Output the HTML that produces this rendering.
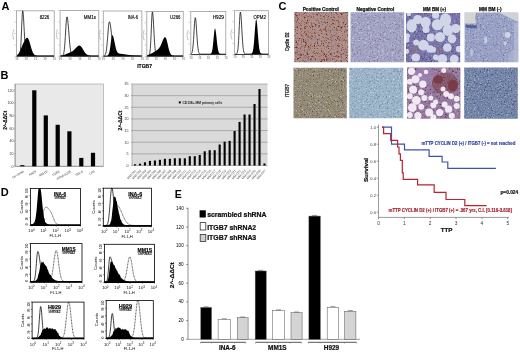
<!DOCTYPE html>
<html><head><meta charset="utf-8"><style>
html,body{margin:0;padding:0;background:#fff;}
svg{display:block;font-family:"Liberation Sans", sans-serif;}
#m{filter:blur(0.35px);}
</style></head><body>
<svg id="m" width="520" height="353" viewBox="0 0 520 353">
<defs><filter id="bl" x="-5%" y="-5%" width="110%" height="110%"><feGaussianBlur stdDeviation="0.45"/></filter><filter id="t1_0" x="0" y="0" width="100%" height="100%" filterUnits="userSpaceOnUse" color-interpolation-filters="sRGB"><feTurbulence type="fractalNoise" baseFrequency="0.3" numOctaves="2" seed="7"/><feColorMatrix type="matrix" values="0 0 0 0 0.557 0 0 0 0 0.518 0 0 0 0 0.596 4 0 0 0 -2.16"/></filter>
<filter id="t1_1" x="0" y="0" width="100%" height="100%" filterUnits="userSpaceOnUse" color-interpolation-filters="sRGB"><feTurbulence type="fractalNoise" baseFrequency="0.7" numOctaves="2" seed="8"/><feColorMatrix type="matrix" values="0 0 0 0 0.518 0 0 0 0 0.282 0 0 0 0 0.227 5 0 0 0 -2.9"/></filter>
<filter id="t1_2" x="0" y="0" width="100%" height="100%" filterUnits="userSpaceOnUse" color-interpolation-filters="sRGB"><feTurbulence type="fractalNoise" baseFrequency="0.9" numOctaves="2" seed="9"/><feColorMatrix type="matrix" values="0 0 0 0 0.353 0 0 0 0 0.141 0 0 0 0 0.078 6 0 0 0 -3.84"/></filter>
<filter id="t2_0" x="0" y="0" width="100%" height="100%" filterUnits="userSpaceOnUse" color-interpolation-filters="sRGB"><feTurbulence type="fractalNoise" baseFrequency="0.6" numOctaves="2" seed="14"/><feColorMatrix type="matrix" values="0 0 0 0 0.478 0 0 0 0 0.478 0 0 0 0 0.651 5 0 0 0 -2.8"/></filter>
<filter id="t2_1" x="0" y="0" width="100%" height="100%" filterUnits="userSpaceOnUse" color-interpolation-filters="sRGB"><feTurbulence type="fractalNoise" baseFrequency="0.5" numOctaves="2" seed="15"/><feColorMatrix type="matrix" values="0 0 0 0 0.753 0 0 0 0 0.753 0 0 0 0 0.847 5 0 0 0 -2.8"/></filter>
<filter id="t3_0" x="0" y="0" width="100%" height="100%" filterUnits="userSpaceOnUse" color-interpolation-filters="sRGB"><feTurbulence type="fractalNoise" baseFrequency="0.6" numOctaves="2" seed="21"/><feColorMatrix type="matrix" values="0 0 0 0 0.290 0 0 0 0 0.275 0 0 0 0 0.494 5 0 0 0 -2.75"/></filter>
<filter id="t3_1" x="0" y="0" width="100%" height="100%" filterUnits="userSpaceOnUse" color-interpolation-filters="sRGB"><feTurbulence type="fractalNoise" baseFrequency="0.5" numOctaves="2" seed="22"/><feColorMatrix type="matrix" values="0 0 0 0 0.604 0 0 0 0 0.596 0 0 0 0 0.769 5 0 0 0 -2.85"/></filter>
<filter id="t4_0" x="0" y="0" width="100%" height="100%" filterUnits="userSpaceOnUse" color-interpolation-filters="sRGB"><feTurbulence type="fractalNoise" baseFrequency="0.5" numOctaves="2" seed="28"/><feColorMatrix type="matrix" values="0 0 0 0 0.737 0 0 0 0 0.753 0 0 0 0 0.847 4 0 0 0 -2.2"/></filter>
<filter id="t4_1" x="0" y="0" width="100%" height="100%" filterUnits="userSpaceOnUse" color-interpolation-filters="sRGB"><feTurbulence type="fractalNoise" baseFrequency="0.7" numOctaves="2" seed="29"/><feColorMatrix type="matrix" values="0 0 0 0 0.439 0 0 0 0 0.471 0 0 0 0 0.659 5 0 0 0 -2.85"/></filter>
<filter id="t5_0" x="0" y="0" width="100%" height="100%" filterUnits="userSpaceOnUse" color-interpolation-filters="sRGB"><feTurbulence type="fractalNoise" baseFrequency="0.45" numOctaves="2" seed="35"/><feColorMatrix type="matrix" values="0 0 0 0 0.541 0 0 0 0 0.588 0 0 0 0 0.667 4 0 0 0 -2.12"/></filter>
<filter id="t5_1" x="0" y="0" width="100%" height="100%" filterUnits="userSpaceOnUse" color-interpolation-filters="sRGB"><feTurbulence type="fractalNoise" baseFrequency="0.8" numOctaves="2" seed="36"/><feColorMatrix type="matrix" values="0 0 0 0 0.369 0 0 0 0 0.306 0 0 0 0 0.227 5 0 0 0 -3"/></filter>
<filter id="t5_2" x="0" y="0" width="100%" height="100%" filterUnits="userSpaceOnUse" color-interpolation-filters="sRGB"><feTurbulence type="fractalNoise" baseFrequency="0.7" numOctaves="2" seed="37"/><feColorMatrix type="matrix" values="0 0 0 0 0.769 0 0 0 0 0.737 0 0 0 0 0.659 5 0 0 0 -3"/></filter>
<filter id="t6_0" x="0" y="0" width="100%" height="100%" filterUnits="userSpaceOnUse" color-interpolation-filters="sRGB"><feTurbulence type="fractalNoise" baseFrequency="0.6" numOctaves="2" seed="42"/><feColorMatrix type="matrix" values="0 0 0 0 0.455 0 0 0 0 0.565 0 0 0 0 0.690 5 0 0 0 -2.75"/></filter>
<filter id="t6_1" x="0" y="0" width="100%" height="100%" filterUnits="userSpaceOnUse" color-interpolation-filters="sRGB"><feTurbulence type="fractalNoise" baseFrequency="0.7" numOctaves="2" seed="43"/><feColorMatrix type="matrix" values="0 0 0 0 0.769 0 0 0 0 0.824 0 0 0 0 0.871 5 0 0 0 -2.9"/></filter>
<filter id="t7_0" x="0" y="0" width="100%" height="100%" filterUnits="userSpaceOnUse" color-interpolation-filters="sRGB"><feTurbulence type="fractalNoise" baseFrequency="0.6" numOctaves="2" seed="49"/><feColorMatrix type="matrix" values="0 0 0 0 0.353 0 0 0 0 0.212 0 0 0 0 0.322 5 0 0 0 -2.85"/></filter>
<filter id="t7_1" x="0" y="0" width="100%" height="100%" filterUnits="userSpaceOnUse" color-interpolation-filters="sRGB"><feTurbulence type="fractalNoise" baseFrequency="0.5" numOctaves="2" seed="50"/><feColorMatrix type="matrix" values="0 0 0 0 0.690 0 0 0 0 0.604 0 0 0 0 0.753 4 0 0 0 -2.24"/></filter>
<filter id="t8_0" x="0" y="0" width="100%" height="100%" filterUnits="userSpaceOnUse" color-interpolation-filters="sRGB"><feTurbulence type="fractalNoise" baseFrequency="0.7" numOctaves="2" seed="56"/><feColorMatrix type="matrix" values="0 0 0 0 0.298 0 0 0 0 0.353 0 0 0 0 0.518 5 0 0 0 -2.7"/></filter>
<filter id="t8_1" x="0" y="0" width="100%" height="100%" filterUnits="userSpaceOnUse" color-interpolation-filters="sRGB"><feTurbulence type="fractalNoise" baseFrequency="0.7" numOctaves="2" seed="57"/><feColorMatrix type="matrix" values="0 0 0 0 0.651 0 0 0 0 0.698 0 0 0 0 0.800 5 0 0 0 -2.9"/></filter></defs>
<rect width="520" height="353" fill="#fff"/>
<text x="1.5" y="10.2" font-size="11" font-weight="bold" fill="#000" text-anchor="start" >A</text>
<rect x="16.5" y="10.8" width="37.7" height="45.5" fill="none" stroke="#9c9c9c" stroke-width="0.8"/>
<path d="M17 56.3 L17 55.1 L17.25 54.95 L17.5 54.77 L17.75 54.56 L18 54.32 L18.25 54.05 L18.5 53.73 L18.75 53.38 L19 52.99 L19.25 52.56 L19.5 52.09 L19.75 51.58 L20 51.05 L20.25 50.48 L20.5 49.89 L20.75 49.28 L21 48.66 L21.25 48.03 L21.5 47.4 L21.75 46.77 L22 46.14 L22.25 45.53 L22.5 44.93 L22.75 44.34 L23 43.77 L23.25 43.22 L23.5 42.68 L23.75 42.16 L24 41.66 L24.25 41.18 L24.5 40.71 L24.75 40.26 L25 39.84 L25.25 39.44 L25.5 39.07 L25.75 38.74 L26 38.45 L26.25 38.2 L26.5 38.01 L26.75 37.87 L27 37.81 L27.25 37.81 L27.5 37.9 L27.75 38.06 L28 38.33 L28.25 38.7 L28.5 39.16 L28.75 39.72 L29 40.37 L29.25 41.08 L29.5 41.86 L29.75 42.7 L30 43.56 L30.25 44.45 L30.5 45.35 L30.75 46.25 L31 47.13 L31.25 47.99 L31.5 48.81 L31.75 49.59 L32 50.32 L32.25 51 L32.5 51.62 L32.75 52.19 L33 52.7 L33.25 53.15 L33.5 53.55 L33.75 53.91 L34 54.21 L34.25 54.47 L34.5 54.7 L34.75 54.89 L35 55.04 L35.25 55.18 L35.5 55.28 L35.75 55.37 L36 55.44 L36.25 55.5 L36.5 55.55 L36.75 55.58 L37 55.61 L37.25 55.63 L37.5 55.65 L37.75 55.66 L38 55.67 L38.25 55.68 L38.5 55.69 L38.75 55.69 L39 55.69 L39.25 55.69 L39.5 55.7 L39.75 55.7 L40 55.7 L40.25 55.7 L40.5 55.7 L40.75 55.7 L41 55.7 L41.25 55.7 L41.5 55.7 L41.75 55.7 L42 55.7 L42.25 55.7 L42.5 55.7 L42.75 55.7 L43 55.7 L43.25 55.7 L43.5 55.7 L43.75 55.7 L44 55.7 L44.25 55.7 L44.5 55.7 L44.75 55.7 L45 55.7 L45.25 55.7 L45.5 55.7 L45.75 55.7 L46 55.7 L46.25 55.7 L46.5 55.7 L46.75 55.7 L47 55.7 L47.25 55.7 L47.5 55.7 L47.75 55.7 L48 55.7 L48.25 55.7 L48.5 55.7 L48.75 55.7 L49 55.7 L49.25 55.7 L49.5 55.7 L49.75 55.7 L50 55.7 L50.25 55.7 L50.5 55.7 L50.75 55.7 L51 55.7 L51.25 55.7 L51.5 55.7 L51.75 55.7 L52 55.7 L52.25 55.7 L52.5 55.7 L52.75 55.7 L53 55.7 L53.25 55.7 L53.5 55.7 L53.75 55.7 L54 55.7 L54.2 56.3 Z" fill="#000"/>
<path d="M17 55.8 L17.25 55.8 L17.5 55.8 L17.75 55.8 L18 55.8 L18.25 55.79 L18.5 55.77 L18.75 55.73 L19 55.64 L19.25 55.47 L19.5 55.15 L19.75 54.57 L20 53.59 L20.25 52.03 L20.5 49.71 L20.75 46.45 L21 42.17 L21.25 36.92 L21.5 30.98 L21.75 24.81 L22 19.05 L22.25 14.41 L22.5 11.54 L22.75 10.83 L23 11.82 L23.25 14.14 L23.5 17.58 L23.75 21.83 L24 26.56 L24.25 31.42 L24.5 36.11 L24.75 40.4 L25 44.13 L25.25 47.23 L25.5 49.71 L25.75 51.61 L26 53 L26.25 53.99 L26.5 54.67 L26.75 55.11 L27 55.4 L27.25 55.57 L27.5 55.67 L27.75 55.73 L28 55.77 L28.25 55.78 L28.5 55.79 L28.75 55.8 L29 55.8 L29.25 55.8 L29.5 55.8 L29.75 55.8 L30 55.8 L30.25 55.8 L30.5 55.8 L30.75 55.8 L31 55.8 L31.25 55.8 L31.5 55.8 L31.75 55.8 L32 55.8 L32.25 55.8 L32.5 55.8 L32.75 55.8 L33 55.8 L33.25 55.8 L33.5 55.8 L33.75 55.8 L34 55.8 L34.25 55.8 L34.5 55.8 L34.75 55.8 L35 55.8 L35.25 55.8 L35.5 55.8 L35.75 55.8 L36 55.8 L36.25 55.8 L36.5 55.8 L36.75 55.8 L37 55.8 L37.25 55.8 L37.5 55.8 L37.75 55.8 L38 55.8 L38.25 55.8 L38.5 55.8 L38.75 55.8 L39 55.8 L39.25 55.8 L39.5 55.8 L39.75 55.8 L40 55.8 L40.25 55.8 L40.5 55.8 L40.75 55.8 L41 55.8 L41.25 55.8 L41.5 55.8 L41.75 55.8 L42 55.8 L42.25 55.8 L42.5 55.8 L42.75 55.8 L43 55.8 L43.25 55.8 L43.5 55.8 L43.75 55.8 L44 55.8 L44.25 55.8 L44.5 55.8 L44.75 55.8 L45 55.8 L45.25 55.8 L45.5 55.8 L45.75 55.8 L46 55.8 L46.25 55.8 L46.5 55.8 L46.75 55.8 L47 55.8 L47.25 55.8 L47.5 55.8 L47.75 55.8 L48 55.8 L48.25 55.8 L48.5 55.8 L48.75 55.8 L49 55.8 L49.25 55.8 L49.5 55.8 L49.75 55.8 L50 55.8 L50.25 55.8 L50.5 55.8 L50.75 55.8 L51 55.8 L51.25 55.8 L51.5 55.8 L51.75 55.8 L52 55.8 L52.25 55.8 L52.5 55.8 L52.75 55.8 L53 55.8 L53.25 55.8 L53.5 55.8 L53.75 55.8 L54 55.8" fill="none" stroke="#111" stroke-width="0.8"/>
<line x1="16.5" y1="56.3" x2="54.2" y2="56.3" stroke="#333" stroke-width="0.8"/>
<text x="39.7" y="19.3" font-size="4.6" font-weight="normal" fill="#111" text-anchor="start" textLength="9.5" lengthAdjust="spacingAndGlyphs" stroke="#111" stroke-width="0.15">8226</text>
<line x1="16.5" y1="56.3" x2="16.5" y2="57.5" stroke="#888" stroke-width="0.5"/>
<text x="16.8" y="60.2" font-size="2.8" font-weight="bold" fill="#888" text-anchor="middle" >10</text>
<line x1="25.93" y1="56.3" x2="25.93" y2="57.5" stroke="#888" stroke-width="0.5"/>
<text x="26.23" y="60.2" font-size="2.8" font-weight="bold" fill="#888" text-anchor="middle" >10</text>
<line x1="35.35" y1="56.3" x2="35.35" y2="57.5" stroke="#888" stroke-width="0.5"/>
<text x="35.65" y="60.2" font-size="2.8" font-weight="bold" fill="#888" text-anchor="middle" >10</text>
<line x1="44.78" y1="56.3" x2="44.78" y2="57.5" stroke="#888" stroke-width="0.5"/>
<text x="45.08" y="60.2" font-size="2.8" font-weight="bold" fill="#888" text-anchor="middle" >10</text>
<line x1="54.2" y1="56.3" x2="54.2" y2="57.5" stroke="#888" stroke-width="0.5"/>
<text x="54.5" y="60.2" font-size="2.8" font-weight="bold" fill="#888" text-anchor="middle" >10</text>
<line x1="14.3" y1="56.3" x2="15.7" y2="56.3" stroke="#aaa" stroke-width="0.6"/>
<line x1="14.3" y1="44.92" x2="15.7" y2="44.92" stroke="#aaa" stroke-width="0.6"/>
<line x1="14.3" y1="33.55" x2="15.7" y2="33.55" stroke="#aaa" stroke-width="0.6"/>
<line x1="14.3" y1="22.17" x2="15.7" y2="22.17" stroke="#aaa" stroke-width="0.6"/>
<line x1="14.3" y1="10.8" x2="15.7" y2="10.8" stroke="#aaa" stroke-width="0.6"/>
<path d="M14.3 30 h-0.8 q-1.6 4.5 0 9 h0.8" fill="none" stroke="#999" stroke-width="0.55"/>
<rect x="60.1" y="10.6" width="38.7" height="45.7" fill="none" stroke="#9c9c9c" stroke-width="0.8"/>
<path d="M60.6 56.3 L60.6 55.54 L60.85 55.52 L61.1 55.49 L61.35 55.46 L61.6 55.42 L61.85 55.38 L62.1 55.34 L62.35 55.3 L62.6 55.25 L62.85 55.19 L63.1 55.13 L63.35 55.07 L63.6 55 L63.85 54.92 L64.1 54.85 L64.35 54.76 L64.6 54.68 L64.85 54.59 L65.1 54.49 L65.35 54.39 L65.6 54.29 L65.85 54.19 L66.1 54.08 L66.35 53.98 L66.6 53.87 L66.85 53.76 L67.1 53.65 L67.35 53.54 L67.6 53.43 L67.85 53.32 L68.1 53.22 L68.35 53.11 L68.6 53 L68.85 52.9 L69.1 52.8 L69.35 52.69 L69.6 52.59 L69.85 52.49 L70.1 52.38 L70.35 52.28 L70.6 52.17 L70.85 52.06 L71.1 51.94 L71.35 51.82 L71.6 51.69 L71.85 51.55 L72.1 51.4 L72.35 51.25 L72.6 51.08 L72.85 50.91 L73.1 50.72 L73.35 50.52 L73.6 50.3 L73.85 50.08 L74.1 49.85 L74.35 49.6 L74.6 49.35 L74.85 49.08 L75.1 48.81 L75.35 48.54 L75.6 48.26 L75.85 47.99 L76.1 47.71 L76.35 47.44 L76.6 47.18 L76.85 46.93 L77.1 46.69 L77.35 46.47 L77.6 46.26 L77.85 46.08 L78.1 45.92 L78.35 45.78 L78.6 45.68 L78.85 45.6 L79.1 45.56 L79.35 45.54 L79.6 45.56 L79.85 45.63 L80.1 45.73 L80.35 45.89 L80.6 46.08 L80.85 46.32 L81.1 46.59 L81.35 46.89 L81.6 47.23 L81.85 47.59 L82.1 47.97 L82.35 48.37 L82.6 48.78 L82.85 49.2 L83.1 49.62 L83.35 50.05 L83.6 50.46 L83.85 50.87 L84.1 51.27 L84.35 51.66 L84.6 52.03 L84.85 52.38 L85.1 52.72 L85.35 53.03 L85.6 53.32 L85.85 53.59 L86.1 53.84 L86.35 54.06 L86.6 54.27 L86.85 54.46 L87.1 54.62 L87.35 54.77 L87.6 54.9 L87.85 55.02 L88.1 55.12 L88.35 55.21 L88.6 55.29 L88.85 55.36 L89.1 55.41 L89.35 55.46 L89.6 55.5 L89.85 55.54 L90.1 55.57 L90.35 55.59 L90.6 55.61 L90.85 55.63 L91.1 55.64 L91.35 55.66 L91.6 55.66 L91.85 55.67 L92.1 55.68 L92.35 55.68 L92.6 55.69 L92.85 55.69 L93.1 55.69 L93.35 55.69 L93.6 55.7 L93.85 55.7 L94.1 55.7 L94.35 55.7 L94.6 55.7 L94.85 55.7 L95.1 55.7 L95.35 55.7 L95.6 55.7 L95.85 55.7 L96.1 55.7 L96.35 55.7 L96.6 55.7 L96.85 55.7 L97.1 55.7 L97.35 55.7 L97.6 55.7 L97.85 55.7 L98.1 55.7 L98.35 55.7 L98.6 55.7 L98.8 56.3 Z" fill="#000"/>
<path d="M60.6 55.8 L60.85 55.8 L61.1 55.79 L61.35 55.79 L61.6 55.78 L61.85 55.76 L62.1 55.71 L62.35 55.64 L62.6 55.52 L62.85 55.32 L63.1 54.99 L63.35 54.5 L63.6 53.76 L63.85 52.7 L64.1 51.24 L64.35 49.3 L64.6 46.83 L64.85 43.81 L65.1 40.27 L65.35 36.33 L65.6 32.15 L65.85 27.97 L66.1 24.08 L66.35 20.78 L66.6 18.36 L66.85 17.02 L67.1 16.86 L67.35 17.53 L67.6 18.91 L67.85 20.91 L68.1 23.44 L68.35 26.36 L68.6 29.53 L68.85 32.8 L69.1 36.05 L69.35 39.17 L69.6 42.06 L69.85 44.67 L70.1 46.95 L70.35 48.9 L70.6 50.52 L70.85 51.84 L71.1 52.89 L71.35 53.7 L71.6 54.31 L71.85 54.77 L72.1 55.1 L72.35 55.33 L72.6 55.49 L72.85 55.6 L73.1 55.67 L73.35 55.72 L73.6 55.75 L73.85 55.77 L74.1 55.78 L74.35 55.79 L74.6 55.79 L74.85 55.8 L75.1 55.8 L75.35 55.8 L75.6 55.8 L75.85 55.8 L76.1 55.8 L76.35 55.8 L76.6 55.8 L76.85 55.8 L77.1 55.8 L77.35 55.8 L77.6 55.8 L77.85 55.8 L78.1 55.8 L78.35 55.8 L78.6 55.8 L78.85 55.8 L79.1 55.8 L79.35 55.8 L79.6 55.8 L79.85 55.8 L80.1 55.8 L80.35 55.8 L80.6 55.8 L80.85 55.8 L81.1 55.8 L81.35 55.8 L81.6 55.8 L81.85 55.8 L82.1 55.8 L82.35 55.8 L82.6 55.8 L82.85 55.8 L83.1 55.8 L83.35 55.8 L83.6 55.8 L83.85 55.8 L84.1 55.8 L84.35 55.8 L84.6 55.8 L84.85 55.8 L85.1 55.8 L85.35 55.8 L85.6 55.8 L85.85 55.8 L86.1 55.8 L86.35 55.8 L86.6 55.8 L86.85 55.8 L87.1 55.8 L87.35 55.8 L87.6 55.8 L87.85 55.8 L88.1 55.8 L88.35 55.8 L88.6 55.8 L88.85 55.8 L89.1 55.8 L89.35 55.8 L89.6 55.8 L89.85 55.8 L90.1 55.8 L90.35 55.8 L90.6 55.8 L90.85 55.8 L91.1 55.8 L91.35 55.8 L91.6 55.8 L91.85 55.8 L92.1 55.8 L92.35 55.8 L92.6 55.8 L92.85 55.8 L93.1 55.8 L93.35 55.8 L93.6 55.8 L93.85 55.8 L94.1 55.8 L94.35 55.8 L94.6 55.8 L94.85 55.8 L95.1 55.8 L95.35 55.8 L95.6 55.8 L95.85 55.8 L96.1 55.8 L96.35 55.8 L96.6 55.8 L96.85 55.8 L97.1 55.8 L97.35 55.8 L97.6 55.8 L97.85 55.8 L98.1 55.8 L98.35 55.8 L98.6 55.8" fill="none" stroke="#111" stroke-width="0.8"/>
<line x1="60.1" y1="56.3" x2="98.8" y2="56.3" stroke="#333" stroke-width="0.8"/>
<text x="83.8" y="19.3" font-size="4.6" font-weight="normal" fill="#111" text-anchor="start" textLength="12.2" lengthAdjust="spacingAndGlyphs" stroke="#111" stroke-width="0.15">MM1s</text>
<line x1="60.1" y1="56.3" x2="60.1" y2="57.5" stroke="#888" stroke-width="0.5"/>
<text x="60.4" y="60.2" font-size="2.8" font-weight="bold" fill="#888" text-anchor="middle" >10</text>
<line x1="69.78" y1="56.3" x2="69.78" y2="57.5" stroke="#888" stroke-width="0.5"/>
<text x="70.08" y="60.2" font-size="2.8" font-weight="bold" fill="#888" text-anchor="middle" >10</text>
<line x1="79.45" y1="56.3" x2="79.45" y2="57.5" stroke="#888" stroke-width="0.5"/>
<text x="79.75" y="60.2" font-size="2.8" font-weight="bold" fill="#888" text-anchor="middle" >10</text>
<line x1="89.12" y1="56.3" x2="89.12" y2="57.5" stroke="#888" stroke-width="0.5"/>
<text x="89.42" y="60.2" font-size="2.8" font-weight="bold" fill="#888" text-anchor="middle" >10</text>
<line x1="98.8" y1="56.3" x2="98.8" y2="57.5" stroke="#888" stroke-width="0.5"/>
<text x="99.1" y="60.2" font-size="2.8" font-weight="bold" fill="#888" text-anchor="middle" >10</text>
<line x1="57.9" y1="56.3" x2="59.3" y2="56.3" stroke="#aaa" stroke-width="0.6"/>
<line x1="57.9" y1="44.88" x2="59.3" y2="44.88" stroke="#aaa" stroke-width="0.6"/>
<line x1="57.9" y1="33.45" x2="59.3" y2="33.45" stroke="#aaa" stroke-width="0.6"/>
<line x1="57.9" y1="22.02" x2="59.3" y2="22.02" stroke="#aaa" stroke-width="0.6"/>
<line x1="57.9" y1="10.6" x2="59.3" y2="10.6" stroke="#aaa" stroke-width="0.6"/>
<path d="M57.9 29.8 h-0.8 q-1.6 4.5 0 9 h0.8" fill="none" stroke="#999" stroke-width="0.55"/>
<rect x="103.3" y="11" width="38.6" height="45.3" fill="none" stroke="#9c9c9c" stroke-width="0.8"/>
<path d="M103.8 56.3 L103.8 55.7 L104.05 55.7 L104.3 55.7 L104.55 55.7 L104.8 55.7 L105.05 55.7 L105.3 55.69 L105.55 55.69 L105.8 55.69 L106.05 55.68 L106.3 55.67 L106.55 55.65 L106.8 55.63 L107.05 55.58 L107.3 55.52 L107.55 55.42 L107.8 55.27 L108.05 55.06 L108.3 54.76 L108.55 54.35 L108.8 53.79 L109.05 53.07 L109.3 52.16 L109.55 51.03 L109.8 49.69 L110.05 48.14 L110.3 46.41 L110.55 44.56 L110.8 42.64 L111.05 40.76 L111.3 39.01 L111.55 37.5 L111.8 36.3 L112.05 35.51 L112.3 35.17 L112.55 35.19 L112.8 35.45 L113.05 35.94 L113.3 36.65 L113.55 37.53 L113.8 38.56 L114.05 39.71 L114.3 40.93 L114.55 42.18 L114.8 43.44 L115.05 44.68 L115.3 45.86 L115.55 46.98 L115.8 48 L116.05 48.94 L116.3 49.77 L116.55 50.49 L116.8 51.1 L117.05 51.62 L117.3 52.05 L117.55 52.4 L117.8 52.69 L118.05 52.92 L118.3 53.1 L118.55 53.24 L118.8 53.36 L119.05 53.45 L119.3 53.52 L119.55 53.58 L119.8 53.63 L120.05 53.67 L120.3 53.71 L120.55 53.75 L120.8 53.78 L121.05 53.81 L121.3 53.85 L121.55 53.88 L121.8 53.91 L122.05 53.94 L122.3 53.98 L122.55 54.01 L122.8 54.05 L123.05 54.08 L123.3 54.12 L123.55 54.15 L123.8 54.19 L124.05 54.23 L124.3 54.26 L124.55 54.3 L124.8 54.34 L125.05 54.37 L125.3 54.41 L125.55 54.45 L125.8 54.48 L126.05 54.52 L126.3 54.56 L126.55 54.59 L126.8 54.63 L127.05 54.66 L127.3 54.7 L127.55 54.73 L127.8 54.77 L128.05 54.8 L128.3 54.84 L128.55 54.87 L128.8 54.9 L129.05 54.93 L129.3 54.96 L129.55 54.99 L129.8 55.02 L130.05 55.05 L130.3 55.08 L130.55 55.1 L130.8 55.13 L131.05 55.16 L131.3 55.18 L131.55 55.21 L131.8 55.23 L132.05 55.25 L132.3 55.27 L132.55 55.29 L132.8 55.31 L133.05 55.33 L133.3 55.35 L133.55 55.37 L133.8 55.39 L134.05 55.41 L134.3 55.42 L134.55 55.44 L134.8 55.45 L135.05 55.47 L135.3 55.48 L135.55 55.49 L135.8 55.5 L136.05 55.52 L136.3 55.53 L136.55 55.54 L136.8 55.55 L137.05 55.56 L137.3 55.57 L137.55 55.57 L137.8 55.58 L138.05 55.59 L138.3 55.6 L138.55 55.6 L138.8 55.61 L139.05 55.62 L139.3 55.62 L139.55 55.63 L139.8 55.63 L140.05 55.64 L140.3 55.64 L140.55 55.65 L140.8 55.65 L141.05 55.65 L141.3 55.66 L141.55 55.66 L141.8 55.66 L141.9 56.3 Z" fill="#000"/>
<path d="M103.8 55.73 L104.05 55.67 L104.3 55.59 L104.55 55.46 L104.8 55.25 L105.05 54.96 L105.3 54.52 L105.55 53.92 L105.8 53.09 L106.05 52 L106.3 50.6 L106.55 48.84 L106.8 46.72 L107.05 44.24 L107.3 41.43 L107.55 38.38 L107.8 35.18 L108.05 31.98 L108.3 28.96 L108.55 26.27 L108.8 24.11 L109.05 22.6 L109.3 21.87 L109.55 21.88 L109.8 22.36 L110.05 23.25 L110.3 24.53 L110.55 26.14 L110.8 28.03 L111.05 30.14 L111.3 32.38 L111.55 34.71 L111.8 37.05 L112.05 39.34 L112.3 41.54 L112.55 43.6 L112.8 45.5 L113.05 47.21 L113.3 48.74 L113.55 50.06 L113.8 51.2 L114.05 52.16 L114.3 52.95 L114.55 53.6 L114.8 54.13 L115.05 54.54 L115.3 54.87 L115.55 55.12 L115.8 55.31 L116.05 55.45 L116.3 55.55 L116.55 55.63 L116.8 55.68 L117.05 55.72 L117.3 55.75 L117.55 55.76 L117.8 55.78 L118.05 55.79 L118.3 55.79 L118.55 55.79 L118.8 55.8 L119.05 55.8 L119.3 55.8 L119.55 55.8 L119.8 55.8 L120.05 55.8 L120.3 55.8 L120.55 55.8 L120.8 55.8 L121.05 55.8 L121.3 55.8 L121.55 55.8 L121.8 55.8 L122.05 55.8 L122.3 55.8 L122.55 55.8 L122.8 55.8 L123.05 55.8 L123.3 55.8 L123.55 55.8 L123.8 55.8 L124.05 55.8 L124.3 55.8 L124.55 55.8 L124.8 55.8 L125.05 55.8 L125.3 55.8 L125.55 55.8 L125.8 55.8 L126.05 55.8 L126.3 55.8 L126.55 55.8 L126.8 55.8 L127.05 55.8 L127.3 55.8 L127.55 55.8 L127.8 55.8 L128.05 55.8 L128.3 55.8 L128.55 55.8 L128.8 55.8 L129.05 55.8 L129.3 55.8 L129.55 55.8 L129.8 55.8 L130.05 55.8 L130.3 55.8 L130.55 55.8 L130.8 55.8 L131.05 55.8 L131.3 55.8 L131.55 55.8 L131.8 55.8 L132.05 55.8 L132.3 55.8 L132.55 55.8 L132.8 55.8 L133.05 55.8 L133.3 55.8 L133.55 55.8 L133.8 55.8 L134.05 55.8 L134.3 55.8 L134.55 55.8 L134.8 55.8 L135.05 55.8 L135.3 55.8 L135.55 55.8 L135.8 55.8 L136.05 55.8 L136.3 55.8 L136.55 55.8 L136.8 55.8 L137.05 55.8 L137.3 55.8 L137.55 55.8 L137.8 55.8 L138.05 55.8 L138.3 55.8 L138.55 55.8 L138.8 55.8 L139.05 55.8 L139.3 55.8 L139.55 55.8 L139.8 55.8 L140.05 55.8 L140.3 55.8 L140.55 55.8 L140.8 55.8 L141.05 55.8 L141.3 55.8 L141.55 55.8 L141.8 55.8" fill="none" stroke="#111" stroke-width="0.8"/>
<line x1="103.3" y1="56.3" x2="141.9" y2="56.3" stroke="#333" stroke-width="0.8"/>
<text x="127.7" y="19.3" font-size="4.6" font-weight="normal" fill="#111" text-anchor="start" textLength="10.4" lengthAdjust="spacingAndGlyphs" stroke="#111" stroke-width="0.15">INA-6</text>
<line x1="103.3" y1="56.3" x2="103.3" y2="57.5" stroke="#888" stroke-width="0.5"/>
<text x="103.6" y="60.2" font-size="2.8" font-weight="bold" fill="#888" text-anchor="middle" >10</text>
<line x1="112.95" y1="56.3" x2="112.95" y2="57.5" stroke="#888" stroke-width="0.5"/>
<text x="113.25" y="60.2" font-size="2.8" font-weight="bold" fill="#888" text-anchor="middle" >10</text>
<line x1="122.6" y1="56.3" x2="122.6" y2="57.5" stroke="#888" stroke-width="0.5"/>
<text x="122.9" y="60.2" font-size="2.8" font-weight="bold" fill="#888" text-anchor="middle" >10</text>
<line x1="132.25" y1="56.3" x2="132.25" y2="57.5" stroke="#888" stroke-width="0.5"/>
<text x="132.55" y="60.2" font-size="2.8" font-weight="bold" fill="#888" text-anchor="middle" >10</text>
<line x1="141.9" y1="56.3" x2="141.9" y2="57.5" stroke="#888" stroke-width="0.5"/>
<text x="142.2" y="60.2" font-size="2.8" font-weight="bold" fill="#888" text-anchor="middle" >10</text>
<line x1="101.1" y1="56.3" x2="102.5" y2="56.3" stroke="#aaa" stroke-width="0.6"/>
<line x1="101.1" y1="44.97" x2="102.5" y2="44.97" stroke="#aaa" stroke-width="0.6"/>
<line x1="101.1" y1="33.65" x2="102.5" y2="33.65" stroke="#aaa" stroke-width="0.6"/>
<line x1="101.1" y1="22.33" x2="102.5" y2="22.33" stroke="#aaa" stroke-width="0.6"/>
<line x1="101.1" y1="11" x2="102.5" y2="11" stroke="#aaa" stroke-width="0.6"/>
<path d="M101.1 30.2 h-0.8 q-1.6 4.5 0 9 h0.8" fill="none" stroke="#999" stroke-width="0.55"/>
<rect x="146.8" y="11.5" width="36.4" height="44.8" fill="none" stroke="#9c9c9c" stroke-width="0.8"/>
<path d="M147.3 56.3 L147.3 55.06 L147.55 55 L147.8 54.94 L148.05 54.87 L148.3 54.8 L148.55 54.73 L148.8 54.65 L149.05 54.57 L149.3 54.48 L149.55 54.38 L149.8 54.29 L150.05 54.18 L150.3 54.08 L150.55 53.96 L150.8 53.85 L151.05 53.73 L151.3 53.6 L151.55 53.47 L151.8 53.34 L152.05 53.21 L152.3 53.07 L152.55 52.92 L152.8 52.78 L153.05 52.63 L153.3 52.48 L153.55 52.33 L153.8 52.17 L154.05 52.02 L154.3 51.86 L154.55 51.71 L154.8 51.55 L155.05 51.39 L155.3 51.24 L155.55 51.08 L155.8 50.92 L156.05 50.76 L156.3 50.59 L156.55 50.43 L156.8 50.26 L157.05 50.08 L157.3 49.9 L157.55 49.7 L157.8 49.5 L158.05 49.28 L158.3 49.04 L158.55 48.78 L158.8 48.5 L159.05 48.19 L159.3 47.85 L159.55 47.48 L159.8 47.07 L160.05 46.63 L160.3 46.15 L160.55 45.66 L160.8 45.13 L161.05 44.58 L161.3 44 L161.55 43.41 L161.8 42.8 L162.05 42.18 L162.3 41.56 L162.55 40.94 L162.8 40.33 L163.05 39.75 L163.3 39.2 L163.55 38.7 L163.8 38.25 L164.05 37.87 L164.3 37.56 L164.55 37.34 L164.8 37.21 L165.05 37.17 L165.3 37.24 L165.55 37.41 L165.8 37.73 L166.05 38.2 L166.3 38.83 L166.55 39.59 L166.8 40.47 L167.05 41.44 L167.3 42.49 L167.55 43.58 L167.8 44.7 L168.05 45.81 L168.3 46.9 L168.55 47.95 L168.8 48.95 L169.05 49.88 L169.3 50.73 L169.55 51.5 L169.8 52.19 L170.05 52.79 L170.3 53.32 L170.55 53.77 L170.8 54.15 L171.05 54.46 L171.3 54.73 L171.55 54.94 L171.8 55.11 L172.05 55.25 L172.3 55.36 L172.55 55.44 L172.8 55.51 L173.05 55.56 L173.3 55.59 L173.55 55.62 L173.8 55.64 L174.05 55.66 L174.3 55.67 L174.55 55.68 L174.8 55.68 L175.05 55.69 L175.3 55.69 L175.55 55.69 L175.8 55.7 L176.05 55.7 L176.3 55.7 L176.55 55.7 L176.8 55.7 L177.05 55.7 L177.3 55.7 L177.55 55.7 L177.8 55.7 L178.05 55.7 L178.3 55.7 L178.55 55.7 L178.8 55.7 L179.05 55.7 L179.3 55.7 L179.55 55.7 L179.8 55.7 L180.05 55.7 L180.3 55.7 L180.55 55.7 L180.8 55.7 L181.05 55.7 L181.3 55.7 L181.55 55.7 L181.8 55.7 L182.05 55.7 L182.3 55.7 L182.55 55.7 L182.8 55.7 L183.05 55.7 L183.2 56.3 Z" fill="#000"/>
<path d="M147.3 55.8 L147.55 55.8 L147.8 55.79 L148.05 55.78 L148.3 55.76 L148.55 55.7 L148.8 55.59 L149.05 55.37 L149.3 54.97 L149.55 54.27 L149.8 53.11 L150.05 51.31 L150.3 48.69 L150.55 45.1 L150.8 40.52 L151.05 35.08 L151.3 29.11 L151.55 23.16 L151.8 17.88 L152.05 13.97 L152.3 11.98 L152.55 12.05 L152.8 13.56 L153.05 16.3 L153.3 20.01 L153.55 24.4 L153.8 29.11 L154.05 33.83 L154.3 38.28 L154.55 42.27 L154.8 45.68 L155.05 48.46 L155.3 50.65 L155.55 52.3 L155.8 53.49 L156.05 54.33 L156.3 54.89 L156.55 55.26 L156.8 55.48 L157.05 55.62 L157.3 55.7 L157.55 55.75 L157.8 55.77 L158.05 55.79 L158.3 55.79 L158.55 55.8 L158.8 55.8 L159.05 55.8 L159.3 55.8 L159.55 55.8 L159.8 55.8 L160.05 55.8 L160.3 55.8 L160.55 55.8 L160.8 55.8 L161.05 55.8 L161.3 55.8 L161.55 55.8 L161.8 55.8 L162.05 55.8 L162.3 55.8 L162.55 55.8 L162.8 55.8 L163.05 55.8 L163.3 55.8 L163.55 55.8 L163.8 55.8 L164.05 55.8 L164.3 55.8 L164.55 55.8 L164.8 55.8 L165.05 55.8 L165.3 55.8 L165.55 55.8 L165.8 55.8 L166.05 55.8 L166.3 55.8 L166.55 55.8 L166.8 55.8 L167.05 55.8 L167.3 55.8 L167.55 55.8 L167.8 55.8 L168.05 55.8 L168.3 55.8 L168.55 55.8 L168.8 55.8 L169.05 55.8 L169.3 55.8 L169.55 55.8 L169.8 55.8 L170.05 55.8 L170.3 55.8 L170.55 55.8 L170.8 55.8 L171.05 55.8 L171.3 55.8 L171.55 55.8 L171.8 55.8 L172.05 55.8 L172.3 55.8 L172.55 55.8 L172.8 55.8 L173.05 55.8 L173.3 55.8 L173.55 55.8 L173.8 55.8 L174.05 55.8 L174.3 55.8 L174.55 55.8 L174.8 55.8 L175.05 55.8 L175.3 55.8 L175.55 55.8 L175.8 55.8 L176.05 55.8 L176.3 55.8 L176.55 55.8 L176.8 55.8 L177.05 55.8 L177.3 55.8 L177.55 55.8 L177.8 55.8 L178.05 55.8 L178.3 55.8 L178.55 55.8 L178.8 55.8 L179.05 55.8 L179.3 55.8 L179.55 55.8 L179.8 55.8 L180.05 55.8 L180.3 55.8 L180.55 55.8 L180.8 55.8 L181.05 55.8 L181.3 55.8 L181.55 55.8 L181.8 55.8 L182.05 55.8 L182.3 55.8 L182.55 55.8 L182.8 55.8 L183.05 55.8" fill="none" stroke="#111" stroke-width="0.8"/>
<line x1="146.8" y1="56.3" x2="183.2" y2="56.3" stroke="#333" stroke-width="0.8"/>
<text x="170.1" y="19.3" font-size="4.6" font-weight="normal" fill="#111" text-anchor="start" textLength="10.4" lengthAdjust="spacingAndGlyphs" stroke="#111" stroke-width="0.15">U266</text>
<line x1="146.8" y1="56.3" x2="146.8" y2="57.5" stroke="#888" stroke-width="0.5"/>
<text x="147.1" y="60.2" font-size="2.8" font-weight="bold" fill="#888" text-anchor="middle" >10</text>
<line x1="155.9" y1="56.3" x2="155.9" y2="57.5" stroke="#888" stroke-width="0.5"/>
<text x="156.2" y="60.2" font-size="2.8" font-weight="bold" fill="#888" text-anchor="middle" >10</text>
<line x1="165" y1="56.3" x2="165" y2="57.5" stroke="#888" stroke-width="0.5"/>
<text x="165.3" y="60.2" font-size="2.8" font-weight="bold" fill="#888" text-anchor="middle" >10</text>
<line x1="174.1" y1="56.3" x2="174.1" y2="57.5" stroke="#888" stroke-width="0.5"/>
<text x="174.4" y="60.2" font-size="2.8" font-weight="bold" fill="#888" text-anchor="middle" >10</text>
<line x1="183.2" y1="56.3" x2="183.2" y2="57.5" stroke="#888" stroke-width="0.5"/>
<text x="183.5" y="60.2" font-size="2.8" font-weight="bold" fill="#888" text-anchor="middle" >10</text>
<line x1="144.6" y1="56.3" x2="146" y2="56.3" stroke="#aaa" stroke-width="0.6"/>
<line x1="144.6" y1="45.1" x2="146" y2="45.1" stroke="#aaa" stroke-width="0.6"/>
<line x1="144.6" y1="33.9" x2="146" y2="33.9" stroke="#aaa" stroke-width="0.6"/>
<line x1="144.6" y1="22.7" x2="146" y2="22.7" stroke="#aaa" stroke-width="0.6"/>
<line x1="144.6" y1="11.5" x2="146" y2="11.5" stroke="#aaa" stroke-width="0.6"/>
<path d="M144.6 30.7 h-0.8 q-1.6 4.5 0 9 h0.8" fill="none" stroke="#999" stroke-width="0.55"/>
<rect x="190.8" y="11.6" width="35" height="43" fill="none" stroke="#9c9c9c" stroke-width="0.8"/>
<path d="M191.3 54.6 L191.3 54 L191.55 54 L191.8 54 L192.05 54 L192.3 54 L192.55 54 L192.8 54 L193.05 54 L193.3 54 L193.55 54 L193.8 54 L194.05 54 L194.3 54 L194.55 54 L194.8 54 L195.05 54 L195.3 54 L195.55 54 L195.8 54 L196.05 54 L196.3 54 L196.55 54 L196.8 54 L197.05 54 L197.3 54 L197.55 54 L197.8 54 L198.05 54 L198.3 54 L198.55 54 L198.8 54 L199.05 54 L199.3 54 L199.55 54 L199.8 54 L200.05 54 L200.3 54 L200.55 54 L200.8 54 L201.05 54 L201.3 54 L201.55 54 L201.8 54 L202.05 54 L202.3 54 L202.55 54 L202.8 54 L203.05 54 L203.3 54 L203.55 54 L203.8 54 L204.05 54 L204.3 54 L204.55 54 L204.8 54 L205.05 54 L205.3 54 L205.55 54 L205.8 54 L206.05 54 L206.3 54 L206.55 54 L206.8 54 L207.05 54 L207.3 54 L207.55 54 L207.8 54 L208.05 54 L208.3 54 L208.55 54 L208.8 54 L209.05 54 L209.3 53.99 L209.55 53.99 L209.8 53.97 L210.05 53.95 L210.3 53.91 L210.55 53.84 L210.8 53.72 L211.05 53.52 L211.3 53.22 L211.55 52.78 L211.8 52.13 L212.05 51.23 L212.3 50.03 L212.55 48.49 L212.8 46.58 L213.05 44.33 L213.3 41.8 L213.55 39.09 L213.8 36.34 L214.05 33.74 L214.3 31.5 L214.55 29.78 L214.8 28.76 L215.05 28.51 L215.3 28.94 L215.55 29.96 L215.8 31.5 L216.05 33.44 L216.3 35.67 L216.55 38.05 L216.8 40.46 L217.05 42.78 L217.3 44.93 L217.55 46.84 L217.8 48.49 L218.05 49.86 L218.3 50.96 L218.55 51.82 L218.8 52.48 L219.05 52.96 L219.3 53.31 L219.55 53.55 L219.8 53.72 L220.05 53.82 L220.3 53.89 L220.55 53.94 L220.8 53.96 L221.05 53.98 L221.3 53.99 L221.55 53.99 L221.8 54 L222.05 54 L222.3 54 L222.55 54 L222.8 54 L223.05 54 L223.3 54 L223.55 54 L223.8 54 L224.05 54 L224.3 54 L224.55 54 L224.8 54 L225.05 54 L225.3 54 L225.55 54 L225.8 54 L225.8 54.6 Z" fill="#000"/>
<path d="M191.3 53.78 L191.55 53.53 L191.8 53.13 L192.05 52.5 L192.3 51.56 L192.55 50.21 L192.8 48.37 L193.05 45.96 L193.3 42.95 L193.55 39.39 L193.8 35.39 L194.05 31.17 L194.3 27.02 L194.55 23.28 L194.8 20.3 L195.05 18.37 L195.3 17.7 L195.55 18.28 L195.8 19.95 L196.05 22.57 L196.3 25.9 L196.55 29.67 L196.8 33.6 L197.05 37.43 L197.3 40.98 L197.55 44.09 L197.8 46.71 L198.05 48.81 L198.3 50.44 L198.55 51.64 L198.8 52.5 L199.05 53.09 L199.3 53.49 L199.55 53.74 L199.8 53.89 L200.05 53.98 L200.3 54.04 L200.55 54.07 L200.8 54.08 L201.05 54.09 L201.3 54.1 L201.55 54.1 L201.8 54.1 L202.05 54.1 L202.3 54.1 L202.55 54.1 L202.8 54.1 L203.05 54.1 L203.3 54.1 L203.55 54.1 L203.8 54.1 L204.05 54.1 L204.3 54.1 L204.55 54.1 L204.8 54.1 L205.05 54.1 L205.3 54.1 L205.55 54.1 L205.8 54.1 L206.05 54.1 L206.3 54.1 L206.55 54.1 L206.8 54.1 L207.05 54.1 L207.3 54.1 L207.55 54.1 L207.8 54.1 L208.05 54.1 L208.3 54.1 L208.55 54.1 L208.8 54.1 L209.05 54.1 L209.3 54.1 L209.55 54.1 L209.8 54.1 L210.05 54.1 L210.3 54.1 L210.55 54.1 L210.8 54.1 L211.05 54.1 L211.3 54.1 L211.55 54.1 L211.8 54.1 L212.05 54.1 L212.3 54.1 L212.55 54.1 L212.8 54.1 L213.05 54.1 L213.3 54.1 L213.55 54.1 L213.8 54.1 L214.05 54.1 L214.3 54.1 L214.55 54.1 L214.8 54.1 L215.05 54.1 L215.3 54.1 L215.55 54.1 L215.8 54.1 L216.05 54.1 L216.3 54.1 L216.55 54.1 L216.8 54.1 L217.05 54.1 L217.3 54.1 L217.55 54.1 L217.8 54.1 L218.05 54.1 L218.3 54.1 L218.55 54.1 L218.8 54.1 L219.05 54.1 L219.3 54.1 L219.55 54.1 L219.8 54.1 L220.05 54.1 L220.3 54.1 L220.55 54.1 L220.8 54.1 L221.05 54.1 L221.3 54.1 L221.55 54.1 L221.8 54.1 L222.05 54.1 L222.3 54.1 L222.55 54.1 L222.8 54.1 L223.05 54.1 L223.3 54.1 L223.55 54.1 L223.8 54.1 L224.05 54.1 L224.3 54.1 L224.55 54.1 L224.8 54.1 L225.05 54.1 L225.3 54.1 L225.55 54.1 L225.8 54.1" fill="none" stroke="#111" stroke-width="0.8"/>
<line x1="190.8" y1="54.6" x2="225.8" y2="54.6" stroke="#333" stroke-width="0.8"/>
<text x="212.7" y="19.3" font-size="4.6" font-weight="normal" fill="#111" text-anchor="start" textLength="11.3" lengthAdjust="spacingAndGlyphs" stroke="#111" stroke-width="0.15">H929</text>
<line x1="190.8" y1="54.6" x2="190.8" y2="55.8" stroke="#888" stroke-width="0.5"/>
<text x="191.1" y="58.5" font-size="2.8" font-weight="bold" fill="#888" text-anchor="middle" >10</text>
<line x1="199.55" y1="54.6" x2="199.55" y2="55.8" stroke="#888" stroke-width="0.5"/>
<text x="199.85" y="58.5" font-size="2.8" font-weight="bold" fill="#888" text-anchor="middle" >10</text>
<line x1="208.3" y1="54.6" x2="208.3" y2="55.8" stroke="#888" stroke-width="0.5"/>
<text x="208.6" y="58.5" font-size="2.8" font-weight="bold" fill="#888" text-anchor="middle" >10</text>
<line x1="217.05" y1="54.6" x2="217.05" y2="55.8" stroke="#888" stroke-width="0.5"/>
<text x="217.35" y="58.5" font-size="2.8" font-weight="bold" fill="#888" text-anchor="middle" >10</text>
<line x1="225.8" y1="54.6" x2="225.8" y2="55.8" stroke="#888" stroke-width="0.5"/>
<text x="226.1" y="58.5" font-size="2.8" font-weight="bold" fill="#888" text-anchor="middle" >10</text>
<line x1="188.6" y1="54.6" x2="190" y2="54.6" stroke="#aaa" stroke-width="0.6"/>
<line x1="188.6" y1="43.85" x2="190" y2="43.85" stroke="#aaa" stroke-width="0.6"/>
<line x1="188.6" y1="33.1" x2="190" y2="33.1" stroke="#aaa" stroke-width="0.6"/>
<line x1="188.6" y1="22.35" x2="190" y2="22.35" stroke="#aaa" stroke-width="0.6"/>
<line x1="188.6" y1="11.6" x2="190" y2="11.6" stroke="#aaa" stroke-width="0.6"/>
<path d="M188.6 30.8 h-0.8 q-1.6 4.5 0 9 h0.8" fill="none" stroke="#999" stroke-width="0.55"/>
<rect x="234.6" y="10.7" width="33.8" height="43.8" fill="none" stroke="#9c9c9c" stroke-width="0.8"/>
<path d="M235.1 54.5 L235.1 53.9 L235.35 53.9 L235.6 53.9 L235.85 53.9 L236.1 53.9 L236.35 53.9 L236.6 53.9 L236.85 53.9 L237.1 53.9 L237.35 53.9 L237.6 53.9 L237.85 53.9 L238.1 53.9 L238.35 53.9 L238.6 53.9 L238.85 53.9 L239.1 53.9 L239.35 53.9 L239.6 53.9 L239.85 53.9 L240.1 53.9 L240.35 53.9 L240.6 53.9 L240.85 53.9 L241.1 53.9 L241.35 53.9 L241.6 53.9 L241.85 53.9 L242.1 53.9 L242.35 53.9 L242.6 53.9 L242.85 53.9 L243.1 53.9 L243.35 53.9 L243.6 53.9 L243.85 53.9 L244.1 53.9 L244.35 53.9 L244.6 53.9 L244.85 53.9 L245.1 53.9 L245.35 53.9 L245.6 53.9 L245.85 53.9 L246.1 53.9 L246.35 53.9 L246.6 53.9 L246.85 53.9 L247.1 53.9 L247.35 53.9 L247.6 53.9 L247.85 53.9 L248.1 53.9 L248.35 53.9 L248.6 53.9 L248.85 53.9 L249.1 53.9 L249.35 53.9 L249.6 53.9 L249.85 53.9 L250.1 53.89 L250.35 53.88 L250.6 53.87 L250.85 53.84 L251.1 53.79 L251.35 53.71 L251.6 53.59 L251.85 53.38 L252.1 53.07 L252.35 52.62 L252.6 51.96 L252.85 51.04 L253.1 49.81 L253.35 48.21 L253.6 46.2 L253.85 43.76 L254.1 40.91 L254.35 37.73 L254.6 34.31 L254.85 30.82 L255.1 27.46 L255.35 24.43 L255.6 21.96 L255.85 20.23 L256.1 19.38 L256.35 19.45 L256.6 20.36 L256.85 22.04 L257.1 24.36 L257.35 27.18 L257.6 30.3 L257.85 33.57 L258.1 36.81 L258.35 39.87 L258.6 42.67 L258.85 45.12 L259.1 47.21 L259.35 48.92 L259.6 50.28 L259.85 51.34 L260.1 52.13 L260.35 52.7 L260.6 53.11 L260.85 53.39 L261.1 53.58 L261.35 53.71 L261.6 53.78 L261.85 53.83 L262.1 53.86 L262.35 53.88 L262.6 53.89 L262.85 53.89 L263.1 53.9 L263.35 53.9 L263.6 53.9 L263.85 53.9 L264.1 53.9 L264.35 53.9 L264.6 53.9 L264.85 53.9 L265.1 53.9 L265.35 53.9 L265.6 53.9 L265.85 53.9 L266.1 53.9 L266.35 53.9 L266.6 53.9 L266.85 53.9 L267.1 53.9 L267.35 53.9 L267.6 53.9 L267.85 53.9 L268.1 53.9 L268.35 53.9 L268.4 54.5 Z" fill="#000"/>
<path d="M235.1 54 L235.35 53.99 L235.6 53.99 L235.85 53.97 L236.1 53.93 L236.35 53.86 L236.6 53.72 L236.85 53.47 L237.1 53.04 L237.35 52.34 L237.6 51.24 L237.85 49.61 L238.1 47.31 L238.35 44.24 L238.6 40.36 L238.85 35.76 L239.1 30.64 L239.35 25.36 L239.6 20.37 L239.85 16.19 L240.1 13.29 L240.35 12.04 L240.6 12.43 L240.85 14.11 L241.1 16.94 L241.35 20.64 L241.6 24.91 L241.85 29.44 L242.1 33.91 L242.35 38.08 L242.6 41.78 L242.85 44.92 L243.1 47.46 L243.35 49.44 L243.6 50.92 L243.85 51.98 L244.1 52.72 L244.35 53.22 L244.6 53.53 L244.85 53.73 L245.1 53.85 L245.35 53.92 L245.6 53.96 L245.85 53.98 L246.1 53.99 L246.35 53.99 L246.6 54 L246.85 54 L247.1 54 L247.35 54 L247.6 54 L247.85 54 L248.1 54 L248.35 54 L248.6 54 L248.85 54 L249.1 54 L249.35 54 L249.6 54 L249.85 54 L250.1 54 L250.35 54 L250.6 54 L250.85 54 L251.1 54 L251.35 54 L251.6 54 L251.85 54 L252.1 54 L252.35 54 L252.6 54 L252.85 54 L253.1 54 L253.35 54 L253.6 54 L253.85 54 L254.1 54 L254.35 54 L254.6 54 L254.85 54 L255.1 54 L255.35 54 L255.6 54 L255.85 54 L256.1 54 L256.35 54 L256.6 54 L256.85 54 L257.1 54 L257.35 54 L257.6 54 L257.85 54 L258.1 54 L258.35 54 L258.6 54 L258.85 54 L259.1 54 L259.35 54 L259.6 54 L259.85 54 L260.1 54 L260.35 54 L260.6 54 L260.85 54 L261.1 54 L261.35 54 L261.6 54 L261.85 54 L262.1 54 L262.35 54 L262.6 54 L262.85 54 L263.1 54 L263.35 54 L263.6 54 L263.85 54 L264.1 54 L264.35 54 L264.6 54 L264.85 54 L265.1 54 L265.35 54 L265.6 54 L265.85 54 L266.1 54 L266.35 54 L266.6 54 L266.85 54 L267.1 54 L267.35 54 L267.6 54 L267.85 54 L268.1 54 L268.35 54" fill="none" stroke="#111" stroke-width="0.8"/>
<line x1="234.6" y1="54.5" x2="268.4" y2="54.5" stroke="#333" stroke-width="0.8"/>
<text x="253.5" y="19.3" font-size="4.6" font-weight="normal" fill="#111" text-anchor="start" textLength="12.3" lengthAdjust="spacingAndGlyphs" stroke="#111" stroke-width="0.15">OPM2</text>
<line x1="234.6" y1="54.5" x2="234.6" y2="55.7" stroke="#888" stroke-width="0.5"/>
<text x="234.9" y="58.4" font-size="2.8" font-weight="bold" fill="#888" text-anchor="middle" >10</text>
<line x1="243.05" y1="54.5" x2="243.05" y2="55.7" stroke="#888" stroke-width="0.5"/>
<text x="243.35" y="58.4" font-size="2.8" font-weight="bold" fill="#888" text-anchor="middle" >10</text>
<line x1="251.5" y1="54.5" x2="251.5" y2="55.7" stroke="#888" stroke-width="0.5"/>
<text x="251.8" y="58.4" font-size="2.8" font-weight="bold" fill="#888" text-anchor="middle" >10</text>
<line x1="259.95" y1="54.5" x2="259.95" y2="55.7" stroke="#888" stroke-width="0.5"/>
<text x="260.25" y="58.4" font-size="2.8" font-weight="bold" fill="#888" text-anchor="middle" >10</text>
<line x1="268.4" y1="54.5" x2="268.4" y2="55.7" stroke="#888" stroke-width="0.5"/>
<text x="268.7" y="58.4" font-size="2.8" font-weight="bold" fill="#888" text-anchor="middle" >10</text>
<line x1="232.4" y1="54.5" x2="233.8" y2="54.5" stroke="#aaa" stroke-width="0.6"/>
<line x1="232.4" y1="43.55" x2="233.8" y2="43.55" stroke="#aaa" stroke-width="0.6"/>
<line x1="232.4" y1="32.6" x2="233.8" y2="32.6" stroke="#aaa" stroke-width="0.6"/>
<line x1="232.4" y1="21.65" x2="233.8" y2="21.65" stroke="#aaa" stroke-width="0.6"/>
<line x1="232.4" y1="10.7" x2="233.8" y2="10.7" stroke="#aaa" stroke-width="0.6"/>
<path d="M232.4 29.9 h-0.8 q-1.6 4.5 0 9 h0.8" fill="none" stroke="#999" stroke-width="0.55"/>
<text x="144.6" y="67.7" font-size="5" font-weight="bold" fill="#111" text-anchor="middle"  stroke="#111" stroke-width="0.18">ITGB7</text>
<text x="0.5" y="78.8" font-size="11" font-weight="bold" fill="#000" text-anchor="start" >B</text>
<rect x="15.1" y="84" width="88.4" height="82.3" fill="#e9e9e9" stroke="#a9a9a9" stroke-width="0.7"/>
<line x1="15.1" y1="84" x2="15.1" y2="166.3" stroke="#777" stroke-width="0.6"/>
<line x1="15.1" y1="166.3" x2="103.5" y2="166.3" stroke="#777" stroke-width="0.6"/>
<text x="13.4" y="167.6" font-size="3.6" font-weight="normal" fill="#333" text-anchor="end" >0</text>
<line x1="14.1" y1="166.3" x2="15.1" y2="166.3" stroke="#777" stroke-width="0.4"/>
<text x="13.4" y="154.95" font-size="3.6" font-weight="normal" fill="#333" text-anchor="end" >20</text>
<line x1="14.1" y1="153.65" x2="15.1" y2="153.65" stroke="#777" stroke-width="0.4"/>
<text x="13.4" y="142.3" font-size="3.6" font-weight="normal" fill="#333" text-anchor="end" >40</text>
<line x1="14.1" y1="141" x2="15.1" y2="141" stroke="#777" stroke-width="0.4"/>
<text x="13.4" y="129.65" font-size="3.6" font-weight="normal" fill="#333" text-anchor="end" >60</text>
<line x1="14.1" y1="128.35" x2="15.1" y2="128.35" stroke="#777" stroke-width="0.4"/>
<text x="13.4" y="117" font-size="3.6" font-weight="normal" fill="#333" text-anchor="end" >80</text>
<line x1="14.1" y1="115.7" x2="15.1" y2="115.7" stroke="#777" stroke-width="0.4"/>
<text x="13.4" y="104.35" font-size="3.6" font-weight="normal" fill="#333" text-anchor="end" >100</text>
<line x1="14.1" y1="103.05" x2="15.1" y2="103.05" stroke="#777" stroke-width="0.4"/>
<text x="13.4" y="91.7" font-size="3.6" font-weight="normal" fill="#333" text-anchor="end" >120</text>
<line x1="14.1" y1="90.4" x2="15.1" y2="90.4" stroke="#777" stroke-width="0.4"/>
<text x="0" y="0" font-size="4.6" font-weight="bold" fill="#111" text-anchor="middle" transform="translate(7.3,120.2) rotate(-90)" textLength="19" lengthAdjust="spacingAndGlyphs" stroke="#111" stroke-width="0.16">2^-ΔΔCt</text>
<rect x="20.2" y="165.2" width="4.2" height="1.1" fill="#000"/>
<text x="0" y="0" font-size="3.2" font-weight="normal" fill="#444" text-anchor="end" transform="translate(24.3,172.1) rotate(-30)">rat cDNA</text>
<rect x="32.2" y="90.3" width="4.2" height="76" fill="#000"/>
<text x="0" y="0" font-size="3.2" font-weight="normal" fill="#444" text-anchor="end" transform="translate(36.3,172.1) rotate(-30)">H929</text>
<rect x="43.7" y="115.4" width="4.2" height="50.9" fill="#000"/>
<text x="0" y="0" font-size="3.2" font-weight="normal" fill="#444" text-anchor="end" transform="translate(47.8,172.1) rotate(-30)">MM1S</text>
<rect x="55.6" y="124.8" width="4.2" height="41.5" fill="#000"/>
<text x="0" y="0" font-size="3.2" font-weight="normal" fill="#444" text-anchor="end" transform="translate(59.7,172.1) rotate(-30)">U266</text>
<rect x="67.3" y="131.3" width="4.2" height="35" fill="#000"/>
<text x="0" y="0" font-size="3.2" font-weight="normal" fill="#444" text-anchor="end" transform="translate(71.4,172.1) rotate(-30)">RPMI-8226</text>
<rect x="79.2" y="157.9" width="4.2" height="8.4" fill="#000"/>
<text x="0" y="0" font-size="3.2" font-weight="normal" fill="#444" text-anchor="end" transform="translate(83.3,172.1) rotate(-30)">INA-6</text>
<rect x="90.9" y="152.8" width="4.2" height="13.5" fill="#000"/>
<text x="0" y="0" font-size="3.2" font-weight="normal" fill="#444" text-anchor="end" transform="translate(95,172.1) rotate(-30)">LR5</text>
<rect x="132" y="84" width="135.5" height="81.5" fill="#dadada"/>
<line x1="131" y1="165.5" x2="267.5" y2="165.5" stroke="#8a8a8a" stroke-width="0.6"/>
<text x="128.6" y="166.8" font-size="3.6" font-weight="normal" fill="#333" text-anchor="end" >0</text>
<line x1="131" y1="153.86" x2="267.5" y2="153.86" stroke="#8a8a8a" stroke-width="0.6"/>
<text x="128.6" y="155.16" font-size="3.6" font-weight="normal" fill="#333" text-anchor="end" >5</text>
<line x1="131" y1="142.21" x2="267.5" y2="142.21" stroke="#8a8a8a" stroke-width="0.6"/>
<text x="128.6" y="143.51" font-size="3.6" font-weight="normal" fill="#333" text-anchor="end" >10</text>
<line x1="131" y1="130.57" x2="267.5" y2="130.57" stroke="#8a8a8a" stroke-width="0.6"/>
<text x="128.6" y="131.87" font-size="3.6" font-weight="normal" fill="#333" text-anchor="end" >15</text>
<line x1="131" y1="118.93" x2="267.5" y2="118.93" stroke="#8a8a8a" stroke-width="0.6"/>
<text x="128.6" y="120.23" font-size="3.6" font-weight="normal" fill="#333" text-anchor="end" >20</text>
<line x1="131" y1="107.29" x2="267.5" y2="107.29" stroke="#8a8a8a" stroke-width="0.6"/>
<text x="128.6" y="108.59" font-size="3.6" font-weight="normal" fill="#333" text-anchor="end" >25</text>
<line x1="131" y1="95.64" x2="267.5" y2="95.64" stroke="#8a8a8a" stroke-width="0.6"/>
<text x="128.6" y="96.94" font-size="3.6" font-weight="normal" fill="#333" text-anchor="end" >30</text>
<line x1="131" y1="84" x2="267.5" y2="84" stroke="#8a8a8a" stroke-width="0.6"/>
<text x="128.6" y="85.3" font-size="3.6" font-weight="normal" fill="#333" text-anchor="end" >35</text>
<line x1="132" y1="84" x2="132" y2="165.5" stroke="#888" stroke-width="0.6"/>
<text x="0" y="0" font-size="4.6" font-weight="bold" fill="#111" text-anchor="middle" transform="translate(121.5,120.5) rotate(-90)" textLength="19.8" lengthAdjust="spacingAndGlyphs" stroke="#111" stroke-width="0.16">2^-ΔΔCt</text>
<rect x="133.95" y="164.3" width="2.1" height="1.2" fill="#000"/>
<text x="0" y="0" font-size="3.2" font-weight="normal" fill="#555" text-anchor="end" transform="translate(136.6,171.1) rotate(-45)">MM-001</text>
<rect x="138.93" y="163.7" width="2.1" height="1.8" fill="#000"/>
<text x="0" y="0" font-size="3.2" font-weight="normal" fill="#555" text-anchor="end" transform="translate(141.58,171.1) rotate(-45)">MM-002</text>
<rect x="143.91" y="162.3" width="2.1" height="3.2" fill="#000"/>
<text x="0" y="0" font-size="3.2" font-weight="normal" fill="#555" text-anchor="end" transform="translate(146.56,171.1) rotate(-45)">MM-003</text>
<rect x="148.89" y="160.9" width="2.1" height="4.6" fill="#000"/>
<text x="0" y="0" font-size="3.2" font-weight="normal" fill="#555" text-anchor="end" transform="translate(151.54,171.1) rotate(-45)">MM-004</text>
<rect x="153.87" y="160.5" width="2.1" height="5" fill="#000"/>
<text x="0" y="0" font-size="3.2" font-weight="normal" fill="#555" text-anchor="end" transform="translate(156.52,171.1) rotate(-45)">MM-005</text>
<rect x="158.85" y="159.8" width="2.1" height="5.7" fill="#000"/>
<text x="0" y="0" font-size="3.2" font-weight="normal" fill="#555" text-anchor="end" transform="translate(161.5,171.1) rotate(-45)">MM-006</text>
<rect x="163.83" y="158.8" width="2.1" height="6.7" fill="#000"/>
<text x="0" y="0" font-size="3.2" font-weight="normal" fill="#555" text-anchor="end" transform="translate(166.48,171.1) rotate(-45)">MM-007</text>
<rect x="168.81" y="158.8" width="2.1" height="6.7" fill="#000"/>
<text x="0" y="0" font-size="3.2" font-weight="normal" fill="#555" text-anchor="end" transform="translate(171.46,171.1) rotate(-45)">MM-008</text>
<rect x="173.79" y="158.3" width="2.1" height="7.2" fill="#000"/>
<text x="0" y="0" font-size="3.2" font-weight="normal" fill="#555" text-anchor="end" transform="translate(176.44,171.1) rotate(-45)">MM-009</text>
<rect x="178.77" y="158.3" width="2.1" height="7.2" fill="#000"/>
<text x="0" y="0" font-size="3.2" font-weight="normal" fill="#555" text-anchor="end" transform="translate(181.42,171.1) rotate(-45)">MM-010</text>
<rect x="183.75" y="158.3" width="2.1" height="7.2" fill="#000"/>
<text x="0" y="0" font-size="3.2" font-weight="normal" fill="#555" text-anchor="end" transform="translate(186.4,171.1) rotate(-45)">MM-011</text>
<rect x="188.73" y="156.2" width="2.1" height="9.3" fill="#000"/>
<text x="0" y="0" font-size="3.2" font-weight="normal" fill="#555" text-anchor="end" transform="translate(191.38,171.1) rotate(-45)">MM-012</text>
<rect x="193.71" y="156.2" width="2.1" height="9.3" fill="#000"/>
<text x="0" y="0" font-size="3.2" font-weight="normal" fill="#555" text-anchor="end" transform="translate(196.36,171.1) rotate(-45)">MM-013</text>
<rect x="198.69" y="155" width="2.1" height="10.5" fill="#000"/>
<text x="0" y="0" font-size="3.2" font-weight="normal" fill="#555" text-anchor="end" transform="translate(201.34,171.1) rotate(-45)">MM-014</text>
<rect x="203.67" y="151.3" width="2.1" height="14.2" fill="#000"/>
<text x="0" y="0" font-size="3.2" font-weight="normal" fill="#555" text-anchor="end" transform="translate(206.32,171.1) rotate(-45)">MM-015</text>
<rect x="208.65" y="150.2" width="2.1" height="15.3" fill="#000"/>
<text x="0" y="0" font-size="3.2" font-weight="normal" fill="#555" text-anchor="end" transform="translate(211.3,171.1) rotate(-45)">MM-016</text>
<rect x="213.63" y="150.2" width="2.1" height="15.3" fill="#000"/>
<text x="0" y="0" font-size="3.2" font-weight="normal" fill="#555" text-anchor="end" transform="translate(216.28,171.1) rotate(-45)">MM-017</text>
<rect x="218.61" y="144.5" width="2.1" height="21" fill="#000"/>
<text x="0" y="0" font-size="3.2" font-weight="normal" fill="#555" text-anchor="end" transform="translate(221.26,171.1) rotate(-45)">MM-018</text>
<rect x="223.59" y="141.7" width="2.1" height="23.8" fill="#000"/>
<text x="0" y="0" font-size="3.2" font-weight="normal" fill="#555" text-anchor="end" transform="translate(226.24,171.1) rotate(-45)">MM-019</text>
<rect x="228.57" y="140.9" width="2.1" height="24.6" fill="#000"/>
<text x="0" y="0" font-size="3.2" font-weight="normal" fill="#555" text-anchor="end" transform="translate(231.22,171.1) rotate(-45)">MM-020</text>
<rect x="233.55" y="131" width="2.1" height="34.5" fill="#000"/>
<text x="0" y="0" font-size="3.2" font-weight="normal" fill="#555" text-anchor="end" transform="translate(236.2,171.1) rotate(-45)">MM-021</text>
<rect x="238.53" y="121.9" width="2.1" height="43.6" fill="#000"/>
<text x="0" y="0" font-size="3.2" font-weight="normal" fill="#555" text-anchor="end" transform="translate(241.18,171.1) rotate(-45)">MM-022</text>
<rect x="243.51" y="114.5" width="2.1" height="51" fill="#000"/>
<text x="0" y="0" font-size="3.2" font-weight="normal" fill="#555" text-anchor="end" transform="translate(246.16,171.1) rotate(-45)">MM-023</text>
<rect x="248.49" y="114.5" width="2.1" height="51" fill="#000"/>
<text x="0" y="0" font-size="3.2" font-weight="normal" fill="#555" text-anchor="end" transform="translate(251.14,171.1) rotate(-45)">MM-024</text>
<rect x="253.47" y="104" width="2.1" height="61.5" fill="#000"/>
<text x="0" y="0" font-size="3.2" font-weight="normal" fill="#555" text-anchor="end" transform="translate(256.12,171.1) rotate(-45)">MM-025</text>
<rect x="258.45" y="89" width="2.1" height="76.5" fill="#000"/>
<text x="0" y="0" font-size="3.2" font-weight="normal" fill="#555" text-anchor="end" transform="translate(261.1,171.1) rotate(-45)">MM-026</text>
<rect x="263.43" y="163.5" width="2.1" height="2" fill="#000"/>
<text x="0" y="0" font-size="3.2" font-weight="normal" fill="#555" text-anchor="end" transform="translate(266.08,171.1) rotate(-45)">MM-027</text>
<rect x="178.8" y="101.4" width="2" height="2" fill="#000"/>
<text x="182.4" y="103.7" font-size="3.5" font-weight="bold" fill="#222" text-anchor="start" textLength="39.9" lengthAdjust="spacingAndGlyphs">CD138+ MM primary cells</text>
<text x="278.6" y="10.2" font-size="11" font-weight="bold" fill="#000" text-anchor="start" >C</text>
<text x="302.7" y="11.1" font-size="5" font-weight="bold" fill="#111" text-anchor="start" textLength="36.2" lengthAdjust="spacingAndGlyphs" stroke="#111" stroke-width="0.25">Positive Control</text>
<text x="356.5" y="11.1" font-size="5" font-weight="bold" fill="#111" text-anchor="start" textLength="37.8" lengthAdjust="spacingAndGlyphs" stroke="#111" stroke-width="0.25">Negative Control</text>
<text x="423" y="11.1" font-size="5" font-weight="bold" fill="#111" text-anchor="start" textLength="23" lengthAdjust="spacingAndGlyphs" stroke="#111" stroke-width="0.25">MM BM (+)</text>
<text x="479" y="11.1" font-size="5" font-weight="bold" fill="#111" text-anchor="start" textLength="22.5" lengthAdjust="spacingAndGlyphs" stroke="#111" stroke-width="0.25">MM BM (-)</text>
<text x="0" y="0" font-size="4.6" font-weight="bold" fill="#111" text-anchor="middle" transform="translate(289.2,41.7) rotate(-90)" textLength="18.7" lengthAdjust="spacingAndGlyphs" stroke="#111" stroke-width="0.2">Cyclin D2</text>
<text x="0" y="0" font-size="4.6" font-weight="bold" fill="#333" text-anchor="middle" transform="translate(289.4,90.6) rotate(-90)" textLength="13.4" lengthAdjust="spacingAndGlyphs" stroke="#333" stroke-width="0.16">ITGB7</text>
<svg x="294.2" y="12" width="54" height="50.3" viewBox="0 0 54 50.3" overflow="hidden">
<g filter="url(#bl)">
<rect x="-2" y="-2" width="58" height="54.3" fill="#b09088"/>
<rect width="54" height="50.3" filter="url(#t1_0)"/>
<rect width="54" height="50.3" filter="url(#t1_1)"/>
<rect width="54" height="50.3" filter="url(#t1_2)"/>
<circle cx="7.26" cy="42.63" r="0.69" fill="#6a2812"/>
<circle cx="13.77" cy="24.92" r="0.55" fill="#6a2812"/>
<circle cx="35.19" cy="39.67" r="0.39" fill="#6a2812"/>
<circle cx="1.53" cy="42.04" r="0.54" fill="#6a2812"/>
<circle cx="41.16" cy="0.11" r="0.55" fill="#6a2812"/>
<circle cx="38.96" cy="11.51" r="0.78" fill="#6a2812"/>
<circle cx="48.68" cy="1.54" r="0.36" fill="#6a2812"/>
<circle cx="29.24" cy="47.24" r="0.52" fill="#6a2812"/>
<circle cx="11.7" cy="21.23" r="0.36" fill="#6a2812"/>
<circle cx="11.97" cy="22.03" r="0.57" fill="#6a2812"/>
<circle cx="12.59" cy="11.61" r="0.45" fill="#6a2812"/>
<circle cx="24.82" cy="14.58" r="0.36" fill="#6a2812"/>
<circle cx="45.23" cy="27.99" r="0.64" fill="#6a2812"/>
<circle cx="10.04" cy="49.92" r="0.74" fill="#6a2812"/>
<circle cx="6.53" cy="16.73" r="0.67" fill="#6a2812"/>
<circle cx="38.4" cy="47.1" r="0.54" fill="#6a2812"/>
<circle cx="44.82" cy="33.72" r="0.49" fill="#6a2812"/>
<circle cx="31.73" cy="44.39" r="0.73" fill="#6a2812"/>
<circle cx="27.29" cy="29.63" r="0.37" fill="#6a2812"/>
<circle cx="13.11" cy="40.11" r="0.54" fill="#6a2812"/>
<circle cx="9.34" cy="27.6" r="0.67" fill="#6a2812"/>
<circle cx="36.42" cy="18.85" r="0.55" fill="#6a2812"/>
<circle cx="27.46" cy="39.16" r="0.58" fill="#6a2812"/>
<circle cx="21.24" cy="24.63" r="0.36" fill="#6a2812"/>
<circle cx="2.35" cy="35.38" r="0.79" fill="#6a2812"/>
<circle cx="32.03" cy="19.8" r="0.43" fill="#6a2812"/>
<circle cx="27.12" cy="49.4" r="0.7" fill="#6a2812"/>
<circle cx="29.14" cy="43.27" r="0.45" fill="#6a2812"/>
<circle cx="27.74" cy="47.91" r="0.61" fill="#6a2812"/>
<circle cx="24.79" cy="13.54" r="0.6" fill="#6a2812"/>
<circle cx="51.68" cy="0.29" r="0.7" fill="#6a2812"/>
<circle cx="44.31" cy="44.57" r="0.68" fill="#6a2812"/>
<circle cx="43.69" cy="26.09" r="0.6" fill="#6a2812"/>
<circle cx="23.01" cy="2.82" r="0.74" fill="#6a2812"/>
<circle cx="30.78" cy="10.05" r="0.58" fill="#6a2812"/>
<circle cx="26.19" cy="17.95" r="0.51" fill="#6a2812"/>
<circle cx="29.08" cy="31.36" r="0.63" fill="#6a2812"/>
<circle cx="24.74" cy="1.41" r="0.45" fill="#6a2812"/>
<circle cx="9.57" cy="29.4" r="0.74" fill="#6a2812"/>
<circle cx="43.12" cy="40.09" r="0.72" fill="#6a2812"/>
<circle cx="13.79" cy="42.34" r="0.65" fill="#6a2812"/>
<circle cx="4.49" cy="0.84" r="0.36" fill="#6a2812"/>
<circle cx="40.8" cy="12.55" r="0.4" fill="#6a2812"/>
<circle cx="33.74" cy="17.32" r="0.38" fill="#6a2812"/>
<circle cx="8.62" cy="26.53" r="0.43" fill="#6a2812"/>
<circle cx="14.74" cy="35.79" r="0.55" fill="#6a2812"/>
<circle cx="17.39" cy="23.83" r="0.36" fill="#6a2812"/>
<circle cx="20.87" cy="21.17" r="0.43" fill="#6a2812"/>
<circle cx="5.87" cy="45.26" r="0.58" fill="#6a2812"/>
<circle cx="11.29" cy="30.46" r="0.72" fill="#6a2812"/>
<circle cx="1.12" cy="0.9" r="0.42" fill="#6a2812"/>
<circle cx="38.82" cy="8.06" r="0.67" fill="#6a2812"/>
<circle cx="36.62" cy="27.4" r="0.45" fill="#6a2812"/>
<circle cx="52.68" cy="40.13" r="0.58" fill="#6a2812"/>
<circle cx="12.05" cy="32.62" r="0.53" fill="#6a2812"/>
<circle cx="31.1" cy="16.16" r="0.63" fill="#6a2812"/>
<circle cx="3.17" cy="15.02" r="0.79" fill="#6a2812"/>
<circle cx="47.28" cy="15.41" r="0.74" fill="#6a2812"/>
<circle cx="16.76" cy="47.25" r="0.68" fill="#6a2812"/>
<circle cx="22.47" cy="12.69" r="0.35" fill="#6a2812"/>
<circle cx="47.45" cy="1.91" r="0.72" fill="#6a2812"/>
<circle cx="51.96" cy="28.69" r="0.43" fill="#6a2812"/>
<circle cx="46.86" cy="48.98" r="0.67" fill="#6a2812"/>
<circle cx="27.48" cy="19.01" r="0.51" fill="#6a2812"/>
<circle cx="11.11" cy="33.91" r="0.54" fill="#6a2812"/>
<circle cx="10.48" cy="5.25" r="0.65" fill="#6a2812"/>
<circle cx="15.99" cy="25.14" r="0.5" fill="#6a2812"/>
<circle cx="47.07" cy="45.25" r="0.36" fill="#6a2812"/>
<circle cx="10.85" cy="16.49" r="0.79" fill="#6a2812"/>
<circle cx="42.27" cy="17.06" r="0.45" fill="#6a2812"/>
<circle cx="36.42" cy="42.14" r="0.77" fill="#6a2812"/>
<circle cx="18.57" cy="44.38" r="0.66" fill="#6a2812"/>
<circle cx="26.16" cy="49.57" r="0.46" fill="#6a2812"/>
<circle cx="39.18" cy="4.26" r="0.43" fill="#6a2812"/>
<circle cx="49.19" cy="10.71" r="0.69" fill="#6a2812"/>
<circle cx="32.41" cy="42.31" r="0.52" fill="#6a2812"/>
<circle cx="18.38" cy="14.65" r="0.74" fill="#6a2812"/>
<circle cx="32.62" cy="48" r="0.75" fill="#6a2812"/>
<circle cx="7.31" cy="27.72" r="0.4" fill="#6a2812"/>
<circle cx="2.11" cy="3.68" r="0.74" fill="#6a2812"/>

</g></svg>
<svg x="350.5" y="12.3" width="53.7" height="50" viewBox="0 0 53.7 50" overflow="hidden">
<g filter="url(#bl)">
<rect x="-2" y="-2" width="57.7" height="54" fill="#a2a2c2"/>
<rect width="53.7" height="50" filter="url(#t2_0)"/>
<rect width="53.7" height="50" filter="url(#t2_1)"/>
<circle cx="51.34" cy="47.39" r="0.32" fill="#9b5a5a"/>
<circle cx="4.56" cy="41.77" r="0.52" fill="#9b5a5a"/>
<circle cx="35.96" cy="15.41" r="0.48" fill="#9b5a5a"/>
<circle cx="32.59" cy="29.06" r="0.35" fill="#9b5a5a"/>
<circle cx="23.13" cy="19.68" r="0.52" fill="#9b5a5a"/>
<circle cx="53.42" cy="47.47" r="0.46" fill="#9b5a5a"/>
<circle cx="23.89" cy="13.41" r="0.31" fill="#9b5a5a"/>
<circle cx="1.47" cy="23.24" r="0.4" fill="#9b5a5a"/>
<circle cx="20.41" cy="44.59" r="0.46" fill="#9b5a5a"/>
<circle cx="30.1" cy="11.81" r="0.31" fill="#9b5a5a"/>
<circle cx="17.46" cy="6.83" r="0.45" fill="#9b5a5a"/>
<circle cx="53.63" cy="33.72" r="0.35" fill="#9b5a5a"/>
<circle cx="47.98" cy="39.84" r="0.52" fill="#9b5a5a"/>
<circle cx="48.68" cy="38.14" r="0.54" fill="#9b5a5a"/>
<circle cx="19" cy="49.05" r="0.59" fill="#9b5a5a"/>
<circle cx="8.66" cy="37.7" r="0.51" fill="#9b5a5a"/>
<circle cx="24.78" cy="26.52" r="0.45" fill="#9b5a5a"/>
<circle cx="49.66" cy="25.04" r="0.55" fill="#9b5a5a"/>
<circle cx="19.01" cy="44.14" r="0.57" fill="#9b5a5a"/>
<circle cx="24.76" cy="28.39" r="0.58" fill="#9b5a5a"/>
<circle cx="38.87" cy="24.33" r="0.37" fill="#9b5a5a"/>
<circle cx="17.43" cy="34.98" r="0.35" fill="#9b5a5a"/>
<circle cx="48.76" cy="13.41" r="0.57" fill="#9b5a5a"/>
<circle cx="16.62" cy="47.87" r="0.51" fill="#9b5a5a"/>
<circle cx="27.08" cy="25.89" r="0.5" fill="#9b5a5a"/>
<circle cx="31.57" cy="15.59" r="0.36" fill="#9b5a5a"/>
<circle cx="27.49" cy="46.71" r="0.49" fill="#9b5a5a"/>
<circle cx="4.05" cy="41.02" r="0.52" fill="#9b5a5a"/>
<circle cx="48.74" cy="9.57" r="0.52" fill="#9b5a5a"/>
<circle cx="3.16" cy="32.65" r="0.38" fill="#9b5a5a"/>

</g></svg>
<svg x="406" y="12.9" width="54.2" height="49.4" viewBox="0 0 54.2 49.4" overflow="hidden">
<g filter="url(#bl)">
<rect x="-2" y="-2" width="58.2" height="53.4" fill="#7a76ac"/>
<rect width="54.2" height="49.4" filter="url(#t3_0)"/>
<rect width="54.2" height="49.4" filter="url(#t3_1)"/>
<circle cx="12.9" cy="26.88" r="0.58" fill="#8d6a78"/>
<circle cx="32.73" cy="30.91" r="0.43" fill="#8d6a78"/>
<circle cx="0.71" cy="41.37" r="0.53" fill="#8d6a78"/>
<circle cx="12.7" cy="49.18" r="0.64" fill="#8d6a78"/>
<circle cx="45.34" cy="23.53" r="0.72" fill="#8d6a78"/>
<circle cx="8.16" cy="31.36" r="0.83" fill="#8d6a78"/>
<circle cx="28.36" cy="36.62" r="0.74" fill="#8d6a78"/>
<circle cx="3.47" cy="37.46" r="0.7" fill="#8d6a78"/>
<circle cx="16.33" cy="1.53" r="0.83" fill="#8d6a78"/>
<circle cx="25.62" cy="35.51" r="0.84" fill="#8d6a78"/>
<circle cx="38.71" cy="45.5" r="0.6" fill="#8d6a78"/>
<circle cx="43.41" cy="21.96" r="0.87" fill="#8d6a78"/>
<circle cx="47.63" cy="4.81" r="0.47" fill="#8d6a78"/>
<circle cx="11.76" cy="47.69" r="0.62" fill="#8d6a78"/>
<circle cx="33.96" cy="14.87" r="0.65" fill="#8d6a78"/>
<circle cx="20.91" cy="17.33" r="0.69" fill="#8d6a78"/>
<circle cx="31.67" cy="44.67" r="0.74" fill="#8d6a78"/>
<circle cx="50.35" cy="42.31" r="0.9" fill="#8d6a78"/>
<circle cx="36.38" cy="8.06" r="0.83" fill="#8d6a78"/>
<circle cx="52.28" cy="44.69" r="0.68" fill="#8d6a78"/>
<circle cx="38.69" cy="10.43" r="0.82" fill="#8d6a78"/>
<circle cx="31.09" cy="14.08" r="0.43" fill="#8d6a78"/>
<circle cx="46.28" cy="48.9" r="0.44" fill="#8d6a78"/>
<circle cx="43.39" cy="20.28" r="0.48" fill="#8d6a78"/>
<circle cx="15.93" cy="37.98" r="0.84" fill="#8d6a78"/>
<circle cx="2.4" cy="30.36" r="0.42" fill="#8d6a78"/>
<circle cx="38.94" cy="16.35" r="0.84" fill="#8d6a78"/>
<circle cx="53.15" cy="24.97" r="0.9" fill="#8d6a78"/>
<circle cx="16.78" cy="3.8" r="0.7" fill="#8d6a78"/>
<circle cx="1.7" cy="9.75" r="0.6" fill="#8d6a78"/>
<circle cx="33.09" cy="7.72" r="0.42" fill="#8d6a78"/>
<circle cx="47.03" cy="15.5" r="0.88" fill="#8d6a78"/>
<circle cx="48.6" cy="18.66" r="0.63" fill="#8d6a78"/>
<circle cx="28.19" cy="31.81" r="0.7" fill="#8d6a78"/>
<circle cx="30.31" cy="30.63" r="0.87" fill="#8d6a78"/>
<circle cx="27.48" cy="21.3" r="0.76" fill="#8d6a78"/>
<circle cx="12.88" cy="14.87" r="0.89" fill="#8d6a78"/>
<circle cx="28.25" cy="27.09" r="0.41" fill="#8d6a78"/>
<circle cx="22.5" cy="28.65" r="0.41" fill="#8d6a78"/>
<circle cx="33.38" cy="31.23" r="0.43" fill="#8d6a78"/>
<ellipse cx="8" cy="37" rx="6" ry="6" fill="#86708c" opacity="0.5"/><ellipse cx="34" cy="37" rx="4" ry="4" fill="#86708c" opacity="0.5"/><ellipse cx="3" cy="1.1" rx="2.3" ry="2.3" fill="#d0d6e8"/><ellipse cx="5.7" cy="13" rx="5.12" ry="6.66" fill="#d0d6e8"/><ellipse cx="11.7" cy="6.6" rx="4.61" ry="4.61" fill="#d0d6e8"/><ellipse cx="19.6" cy="9.4" rx="5.12" ry="5.63" fill="#d0d6e8"/><ellipse cx="20" cy="16.6" rx="3.58" ry="3.58" fill="#d0d6e8"/><ellipse cx="24.8" cy="24.6" rx="4.1" ry="4.1" fill="#d0d6e8"/><ellipse cx="1.4" cy="22.9" rx="2.56" ry="2.56" fill="#d0d6e8"/><ellipse cx="29.6" cy="2.3" rx="3.58" ry="3.58" fill="#d0d6e8"/><ellipse cx="39.5" cy="7" rx="5.63" ry="6.66" fill="#d0d6e8"/><ellipse cx="31.5" cy="11.8" rx="5.63" ry="5.63" fill="#d0d6e8"/><ellipse cx="41.8" cy="17.3" rx="5.12" ry="5.89" fill="#d0d6e8"/><ellipse cx="49.8" cy="15.7" rx="4.61" ry="4.61" fill="#d0d6e8"/><ellipse cx="34" cy="24.1" rx="5.12" ry="5.12" fill="#d0d6e8"/><ellipse cx="46" cy="25.9" rx="4.35" ry="4.35" fill="#d0d6e8"/><ellipse cx="0.5" cy="26.9" rx="2.94" ry="2.94" fill="#d0d6e8"/><ellipse cx="10.1" cy="29.6" rx="2.94" ry="2.94" fill="#d0d6e8"/><ellipse cx="17.4" cy="32.3" rx="5.38" ry="5.38" fill="#d0d6e8"/><ellipse cx="24.2" cy="36.1" rx="3.84" ry="3.84" fill="#d0d6e8"/><ellipse cx="9.7" cy="44.5" rx="4.35" ry="3.84" fill="#d0d6e8"/><ellipse cx="0.5" cy="38.4" rx="2.56" ry="2.56" fill="#d0d6e8"/><ellipse cx="41.3" cy="34.6" rx="4.35" ry="4.35" fill="#d0d6e8"/><ellipse cx="27.1" cy="36.9" rx="2.94" ry="2.94" fill="#d0d6e8"/><ellipse cx="36.3" cy="46.1" rx="4.86" ry="4.86" fill="#d0d6e8"/><ellipse cx="48.2" cy="46.1" rx="4.35" ry="4.35" fill="#d0d6e8"/><ellipse cx="53" cy="36.1" rx="3.2" ry="3.2" fill="#d0d6e8"/><ellipse cx="29.8" cy="44.5" rx="2.82" ry="2.82" fill="#d0d6e8"/>
</g></svg>
<svg x="464.6" y="12.6" width="53.8" height="49.6" viewBox="0 0 53.8 49.6" overflow="hidden">
<g filter="url(#bl)">
<rect x="-2" y="-2" width="57.8" height="53.6" fill="#98a0c4"/>
<rect width="53.8" height="49.6" filter="url(#t4_0)"/>
<rect width="53.8" height="49.6" filter="url(#t4_1)"/>
<path d="M0 0 L11.8 0 L10.5 5 L11.5 11 L0 11 Z" fill="#d4d4d0"/><path d="M34 0 L54 0 L54 9.5 L45 5.5 Z" fill="#d0d1d4"/><path d="M1 12.3 L12 12.6 L12.5 15.6 L1 15.2Z" fill="#4a5496" opacity="0.85"/><rect x="49.5" y="10" width="4.5" height="40" fill="#b8bdd8" opacity="0.7"/><path d="M45 40 L54 38 L54 50 L43 50 Z" fill="#b4b9d4" opacity="0.6"/><ellipse cx="43" cy="22.5" rx="3" ry="3" fill="#cfd3e4"/><ellipse cx="21" cy="27.5" rx="1.5" ry="3.5" fill="#c8cce0"/><ellipse cx="7" cy="40" rx="1.3" ry="4" fill="#bcc2dc"/><ellipse cx="40.6" cy="30.7" rx="1.6" ry="2" fill="#c4c9e0"/>
</g></svg>
<svg x="293.5" y="67.8" width="53.3" height="50.4" viewBox="0 0 53.3 50.4" overflow="hidden">
<g filter="url(#bl)">
<rect x="-2" y="-2" width="57.3" height="54.4" fill="#948870"/>
<rect width="53.3" height="50.4" filter="url(#t5_0)"/>
<rect width="53.3" height="50.4" filter="url(#t5_1)"/>
<rect width="53.3" height="50.4" filter="url(#t5_2)"/>

</g></svg>
<svg x="349.2" y="67.8" width="54.1" height="50.4" viewBox="0 0 54.1 50.4" overflow="hidden">
<g filter="url(#bl)">
<rect x="-2" y="-2" width="58.1" height="54.4" fill="#9cb4c8"/>
<rect width="54.1" height="50.4" filter="url(#t6_0)"/>
<rect width="54.1" height="50.4" filter="url(#t6_1)"/>

</g></svg>
<svg x="407" y="67.5" width="53.4" height="51.2" viewBox="0 0 53.4 51.2" overflow="hidden">
<g filter="url(#bl)">
<rect x="-2" y="-2" width="57.4" height="55.2" fill="#94789e"/>
<rect width="53.4" height="51.2" filter="url(#t7_0)"/>
<rect width="53.4" height="51.2" filter="url(#t7_1)"/>
<ellipse cx="17" cy="8" rx="10" ry="9" fill="#9a84b4" opacity="0.7"/><ellipse cx="38" cy="16" rx="13" ry="11" fill="#7e4650" opacity="0.6"/><ellipse cx="31" cy="12" rx="5" ry="4" fill="#74323a" opacity="0.75"/><ellipse cx="46" cy="18" rx="5" ry="6" fill="#74323a" opacity="0.75"/><circle cx="4.5" cy="3.8" r="3.62" fill="#f0e8f2"/><circle cx="8.5" cy="11.8" r="4" fill="#f0e8f2"/><circle cx="2.8" cy="14.3" r="3" fill="#f0e8f2"/><circle cx="15.8" cy="16.7" r="3.62" fill="#f0e8f2"/><circle cx="6.1" cy="22.3" r="4" fill="#f0e8f2"/><circle cx="14.2" cy="24.8" r="3" fill="#f0e8f2"/><circle cx="2.8" cy="28.8" r="3" fill="#f0e8f2"/><circle cx="9.3" cy="32.8" r="4.38" fill="#f0e8f2"/><circle cx="17.4" cy="30.4" r="3" fill="#f0e8f2"/><circle cx="5.3" cy="40.1" r="4.38" fill="#f0e8f2"/><circle cx="14.2" cy="39.3" r="3" fill="#f0e8f2"/><circle cx="10.9" cy="48.2" r="3.62" fill="#f0e8f2"/><circle cx="2.8" cy="47.4" r="3" fill="#f0e8f2"/><circle cx="22.2" cy="45" r="4" fill="#f0e8f2"/><circle cx="26.3" cy="37.7" r="3" fill="#f0e8f2"/><circle cx="26.3" cy="49.8" r="3" fill="#f0e8f2"/><circle cx="32.7" cy="45" r="3.62" fill="#f0e8f2"/><circle cx="37.6" cy="36.9" r="3" fill="#f0e8f2"/><circle cx="41.6" cy="41.7" r="3.62" fill="#f0e8f2"/><circle cx="44.8" cy="48.2" r="3" fill="#f0e8f2"/><circle cx="49.7" cy="38.5" r="3" fill="#f0e8f2"/><circle cx="36" cy="21.5" r="2.5" fill="#f0e8f2"/><circle cx="39.2" cy="26.4" r="3" fill="#f0e8f2"/><circle cx="44" cy="28.8" r="3" fill="#f0e8f2"/><circle cx="49.7" cy="31.2" r="3" fill="#f0e8f2"/><circle cx="36.8" cy="3" r="2.5" fill="#f0e8f2"/><circle cx="23.8" cy="30.4" r="2.5" fill="#f0e8f2"/><circle cx="28.7" cy="34.5" r="2.5" fill="#f0e8f2"/><circle cx="19" cy="4.5" r="2.25" fill="#f0e8f2"/><circle cx="13" cy="7.5" r="2" fill="#f0e8f2"/>
</g></svg>
<svg x="464.2" y="67.5" width="53.6" height="51.2" viewBox="0 0 53.6 51.2" overflow="hidden">
<g filter="url(#bl)">
<rect x="-2" y="-2" width="57.6" height="55.2" fill="#7686a8"/>
<rect width="53.6" height="51.2" filter="url(#t8_0)"/>
<rect width="53.6" height="51.2" filter="url(#t8_1)"/>

</g></svg>
<line x1="378.5" y1="124.5" x2="378.5" y2="217.4" stroke="#555" stroke-width="0.6"/>
<line x1="378.5" y1="217.4" x2="509" y2="217.4" stroke="#555" stroke-width="0.6"/>
<line x1="376.7" y1="212.2" x2="378.5" y2="212.2" stroke="#555" stroke-width="0.6"/>
<text x="375.9" y="213.6" font-size="4" font-weight="normal" fill="#333" text-anchor="end" >0.0</text>
<line x1="376.7" y1="195.2" x2="378.5" y2="195.2" stroke="#555" stroke-width="0.6"/>
<text x="375.9" y="196.6" font-size="4" font-weight="normal" fill="#333" text-anchor="end" >0.2</text>
<line x1="376.7" y1="178.2" x2="378.5" y2="178.2" stroke="#555" stroke-width="0.6"/>
<text x="375.9" y="179.6" font-size="4" font-weight="normal" fill="#333" text-anchor="end" >0.4</text>
<line x1="376.7" y1="161.2" x2="378.5" y2="161.2" stroke="#555" stroke-width="0.6"/>
<text x="375.9" y="162.6" font-size="4" font-weight="normal" fill="#333" text-anchor="end" >0.6</text>
<line x1="376.7" y1="144.2" x2="378.5" y2="144.2" stroke="#555" stroke-width="0.6"/>
<text x="375.9" y="145.6" font-size="4" font-weight="normal" fill="#333" text-anchor="end" >0.8</text>
<line x1="376.7" y1="127.2" x2="378.5" y2="127.2" stroke="#555" stroke-width="0.6"/>
<text x="375.9" y="128.6" font-size="4" font-weight="normal" fill="#333" text-anchor="end" >1.0</text>
<line x1="378.5" y1="217.4" x2="378.5" y2="219.2" stroke="#555" stroke-width="0.6"/>
<text x="378.5" y="224.8" font-size="4.8" font-weight="normal" fill="#333" text-anchor="middle" >0</text>
<line x1="404.35" y1="217.4" x2="404.35" y2="219.2" stroke="#555" stroke-width="0.6"/>
<text x="404.35" y="224.8" font-size="4.8" font-weight="normal" fill="#333" text-anchor="middle" >1</text>
<line x1="430.2" y1="217.4" x2="430.2" y2="219.2" stroke="#555" stroke-width="0.6"/>
<text x="430.2" y="224.8" font-size="4.8" font-weight="normal" fill="#333" text-anchor="middle" >2</text>
<line x1="456.05" y1="217.4" x2="456.05" y2="219.2" stroke="#555" stroke-width="0.6"/>
<text x="456.05" y="224.8" font-size="4.8" font-weight="normal" fill="#333" text-anchor="middle" >3</text>
<line x1="481.9" y1="217.4" x2="481.9" y2="219.2" stroke="#555" stroke-width="0.6"/>
<text x="481.9" y="224.8" font-size="4.8" font-weight="normal" fill="#333" text-anchor="middle" >4</text>
<line x1="507.75" y1="217.4" x2="507.75" y2="219.2" stroke="#555" stroke-width="0.6"/>
<text x="507.75" y="224.8" font-size="4.8" font-weight="normal" fill="#333" text-anchor="middle" >5</text>
<text x="0" y="0" font-size="6.2" font-weight="bold" fill="#111" text-anchor="middle" transform="translate(367.6,170) rotate(-90)" stroke="#111" stroke-width="0.22">Survival</text>
<text x="446.5" y="232.2" font-size="6.2" font-weight="bold" fill="#111" text-anchor="middle"  stroke="#111" stroke-width="0.22">TTP</text>
<polyline points="382.1,127.1 391.5,127.1 391.5,144.1 404.5,144.1 404.5,149.9 429.1,149.9 429.1,156.4 442.1,156.4 442.1,162 447.8,162 447.8,168.3 495.9,168.3" fill="none" stroke="#3c54a8" stroke-width="1.2"/>
<polyline points="382.1,127.1 383.6,127.1 383.6,133.6 390.7,133.6 390.7,140.3 397.6,140.3 397.6,147 399,147 399,153.8 400.4,153.8 400.4,160.3 402.3,160.3 402.3,172.8 403.2,172.8 403.2,179.4 417.6,179.4 417.6,184.8 434.2,184.8 434.2,192.4 446,192.4 446,199.5 464.8,199.5 464.8,205.7 486.6,205.7" fill="none" stroke="#b82232" stroke-width="1.2"/>
<text x="421.5" y="145.2" font-size="4.7" font-weight="bold" fill="#34449c" text-anchor="start" textLength="93.8" lengthAdjust="spacingAndGlyphs" stroke="#34449c" stroke-width="0.16">mTTP CYCLIN D2 (+) / ITGB7 (-) = not reached</text>
<text x="388.6" y="212" font-size="4.7" font-weight="bold" fill="#a81e2c" text-anchor="start" textLength="123.4" lengthAdjust="spacingAndGlyphs" stroke="#a81e2c" stroke-width="0.16">mTTP CYCLIN D2 (+) / ITGB7 (+) =  .367 yrs, C.I. [0.116-3.818]</text>
<text x="500.4" y="194.2" font-size="5" font-weight="bold" fill="#111" text-anchor="start" textLength="17.8" lengthAdjust="spacingAndGlyphs" stroke="#111" stroke-width="0.18">p=0.024</text>
<text x="0.8" y="196.2" font-size="11" font-weight="bold" fill="#000" text-anchor="start" >D</text>
<rect x="30.6" y="188.4" width="49.8" height="36.9" fill="none" stroke="#000" stroke-width="0.8"/>
<path d="M30.6 225.3 L30.6 224.36 L31.1 224.3 L31.6 224.21 L32.1 224.09 L32.6 223.91 L33.1 223.66 L33.6 223.26 L34.1 222.64 L34.6 221.78 L35.1 220.05 L35.6 218.29 L36.1 213.88 L36.6 210.36 L37.1 203.89 L37.6 198.32 L38.1 191.67 L38.6 188.4 L39.1 188.4 L39.6 188.4 L40.1 188.4 L40.6 188.4 L41.1 192.11 L41.6 195.88 L42.1 201.78 L42.6 206.82 L43.1 211.14 L43.6 214.18 L44.1 217.98 L44.6 219.11 L45.1 222.11 L45.6 222.32 L46.1 222.99 L46.6 223.45 L47.1 223.77 L47.6 223.98 L48.1 224.14 L48.6 224.25 L49.1 224.33 L49.6 224.38 L50.1 224.42 L50.6 224.45 L51.1 224.47 L51.6 224.48 L52.1 224.49 L52.6 224.49 L53.1 224.5 L53.6 224.5 L54.1 224.5 L54.6 224.5 L55.1 224.5 L55.6 224.5 L56.1 224.5 L56.6 224.5 L57.1 224.5 L57.6 224.5 L58.1 224.5 L58.6 224.5 L59.1 224.5 L59.6 224.5 L60.1 224.5 L60.6 224.5 L61.1 224.5 L61.6 224.5 L62.1 224.5 L62.6 224.5 L63.1 224.5 L63.6 224.5 L64.1 224.5 L64.6 224.5 L65.1 224.5 L65.6 224.5 L66.1 224.5 L66.6 224.5 L67.1 224.5 L67.6 224.5 L68.1 224.5 L68.6 224.5 L69.1 224.5 L69.6 224.5 L70.1 224.5 L70.6 224.5 L71.1 224.5 L71.6 224.5 L72.1 224.5 L72.6 224.5 L73.1 224.5 L73.6 224.5 L74.1 224.5 L74.6 224.5 L75.1 224.5 L75.6 224.5 L76.1 224.5 L76.6 224.5 L77.1 224.5 L77.6 224.5 L78.1 224.5 L78.6 224.5 L79.1 224.5 L79.6 224.5 L80.1 224.5 L80.4 225.3 Z" fill="#000"/>
<path d="M30.6 224.8 L30.85 224.8 L31.1 224.8 L31.35 224.8 L31.6 224.8 L31.85 224.8 L32.1 224.8 L32.35 224.8 L32.6 224.8 L32.85 224.8 L33.1 224.8 L33.35 224.8 L33.6 224.8 L33.85 224.8 L34.1 224.8 L34.35 224.8 L34.6 224.8 L34.85 224.8 L35.1 224.8 L35.35 224.79 L35.6 224.79 L35.85 224.79 L36.1 224.78 L36.35 224.78 L36.6 224.77 L36.85 224.75 L37.1 224.73 L37.35 224.7 L37.6 224.66 L37.85 224.61 L38.1 224.55 L38.35 224.46 L38.6 224.35 L38.85 224.22 L39.1 224.04 L39.35 223.83 L39.6 223.56 L39.85 223.24 L40.1 222.86 L40.35 222.42 L40.6 221.9 L40.85 221.3 L41.1 220.63 L41.35 219.88 L41.6 219.06 L41.85 218.17 L42.1 217.22 L42.35 216.22 L42.6 215.2 L42.85 214.16 L43.1 213.13 L43.35 212.13 L43.6 211.18 L43.85 210.31 L44.1 209.53 L44.35 208.86 L44.6 208.32 L44.85 207.91 L45.1 207.63 L45.35 207.43 L45.6 207.28 L45.85 207.19 L46.1 207.15 L46.35 207.15 L46.6 207.2 L46.85 207.3 L47.1 207.43 L47.35 207.6 L47.6 207.8 L47.85 208.03 L48.1 208.28 L48.35 208.56 L48.6 208.85 L48.85 209.16 L49.1 209.48 L49.35 209.82 L49.6 210.17 L49.85 210.53 L50.1 210.9 L50.35 211.29 L50.6 211.69 L50.85 212.1 L51.1 212.52 L51.35 212.99 L51.6 213.5 L51.85 214.06 L52.1 214.65 L52.35 215.28 L52.6 215.93 L52.85 216.6 L53.1 217.27 L53.35 217.95 L53.6 218.61 L53.85 219.25 L54.1 219.87 L54.35 220.45 L54.6 221 L54.85 221.51 L55.1 221.97 L55.35 222.39 L55.6 222.77 L55.85 223.1 L56.1 223.39 L56.35 223.64 L56.6 223.85 L56.85 224.04 L57.1 224.19 L57.35 224.31 L57.6 224.42 L57.85 224.5 L58.1 224.57 L58.35 224.62 L58.6 224.67 L58.85 224.7 L59.1 224.73 L59.35 224.74 L59.6 224.76 L59.85 224.77 L60.1 224.78 L60.35 224.79 L60.6 224.79 L60.85 224.79 L61.1 224.79 L61.35 224.8 L61.6 224.8 L61.85 224.8 L62.1 224.8 L62.35 224.8 L62.6 224.8 L62.85 224.8 L63.1 224.8 L63.35 224.8 L63.6 224.8 L63.85 224.8 L64.1 224.8 L64.35 224.8 L64.6 224.8 L64.85 224.8 L65.1 224.8 L65.35 224.8 L65.6 224.8 L65.85 224.8 L66.1 224.8 L66.35 224.8 L66.6 224.8 L66.85 224.8 L67.1 224.8 L67.35 224.8 L67.6 224.8 L67.85 224.8 L68.1 224.8 L68.35 224.8 L68.6 224.8 L68.85 224.8 L69.1 224.8 L69.35 224.8 L69.6 224.8 L69.85 224.8 L70.1 224.8 L70.35 224.8 L70.6 224.8 L70.85 224.8 L71.1 224.8 L71.35 224.8 L71.6 224.8 L71.85 224.8 L72.1 224.8 L72.35 224.8 L72.6 224.8 L72.85 224.8 L73.1 224.8 L73.35 224.8 L73.6 224.8 L73.85 224.8 L74.1 224.8 L74.35 224.8 L74.6 224.8 L74.85 224.8 L75.1 224.8 L75.35 224.8 L75.6 224.8 L75.85 224.8 L76.1 224.8 L76.35 224.8 L76.6 224.8 L76.85 224.8 L77.1 224.8 L77.35 224.8 L77.6 224.8 L77.85 224.8 L78.1 224.8 L78.35 224.8 L78.6 224.8 L78.85 224.8 L79.1 224.8 L79.35 224.8 L79.6 224.8 L79.85 224.8 L80.1 224.8 L80.35 224.8" fill="none" stroke="#111" stroke-width="0.75" stroke-dasharray="0.9 0.6"/>
<line x1="30.6" y1="225.3" x2="80.4" y2="225.3" stroke="#000" stroke-width="1.3"/>
<text x="53.9" y="195.7" font-size="5.2" font-weight="bold" fill="#000" text-anchor="start" textLength="12.3" lengthAdjust="spacingAndGlyphs" stroke="#000" stroke-width="0.15">INA-6</text>
<line x1="53.9" y1="196.4" x2="66.2" y2="196.4" stroke="#000" stroke-width="0.5"/>
<text x="54.4" y="199" font-size="2.9" font-weight="bold" fill="#111" text-anchor="start" textLength="11.3" lengthAdjust="spacingAndGlyphs">shRNA2</text>
<line x1="32.1" y1="225.3" x2="32.1" y2="226.6" stroke="#000" stroke-width="0.5"/>
<text x="31.5" y="232.3" font-size="4.2" font-weight="normal" fill="#111" text-anchor="middle" >10<tspan dy="-1.8" font-size="2.9">0</tspan></text>
<line x1="44.18" y1="225.3" x2="44.18" y2="226.6" stroke="#000" stroke-width="0.5"/>
<text x="43.58" y="232.3" font-size="4.2" font-weight="normal" fill="#111" text-anchor="middle" >10<tspan dy="-1.8" font-size="2.9">1</tspan></text>
<line x1="56.25" y1="225.3" x2="56.25" y2="226.6" stroke="#000" stroke-width="0.5"/>
<text x="55.65" y="232.3" font-size="4.2" font-weight="normal" fill="#111" text-anchor="middle" >10<tspan dy="-1.8" font-size="2.9">2</tspan></text>
<line x1="68.33" y1="225.3" x2="68.33" y2="226.6" stroke="#000" stroke-width="0.5"/>
<text x="67.73" y="232.3" font-size="4.2" font-weight="normal" fill="#111" text-anchor="middle" >10<tspan dy="-1.8" font-size="2.9">3</tspan></text>
<line x1="80.4" y1="225.3" x2="80.4" y2="226.6" stroke="#000" stroke-width="0.5"/>
<text x="79.8" y="232.3" font-size="4.2" font-weight="normal" fill="#111" text-anchor="middle" >10<tspan dy="-1.8" font-size="2.9">4</tspan></text>
<text x="55.2" y="236.9" font-size="4.1" font-weight="normal" fill="#111" text-anchor="middle" >FL1-H</text>
<line x1="29.4" y1="225.3" x2="30.6" y2="225.3" stroke="#000" stroke-width="0.5"/>
<text x="0" y="0" font-size="4.2" font-weight="normal" fill="#000" text-anchor="middle" transform="translate(28,224.3) rotate(-90)" textLength="1.8" lengthAdjust="spacingAndGlyphs">0</text>
<line x1="29.4" y1="217.92" x2="30.6" y2="217.92" stroke="#000" stroke-width="0.5"/>
<text x="0" y="0" font-size="4.2" font-weight="normal" fill="#000" text-anchor="middle" transform="translate(28,218.72) rotate(-90)" textLength="3.3" lengthAdjust="spacingAndGlyphs">20</text>
<line x1="29.4" y1="210.54" x2="30.6" y2="210.54" stroke="#000" stroke-width="0.5"/>
<text x="0" y="0" font-size="4.2" font-weight="normal" fill="#000" text-anchor="middle" transform="translate(28,211.34) rotate(-90)" textLength="3.3" lengthAdjust="spacingAndGlyphs">40</text>
<line x1="29.4" y1="203.16" x2="30.6" y2="203.16" stroke="#000" stroke-width="0.5"/>
<text x="0" y="0" font-size="4.2" font-weight="normal" fill="#000" text-anchor="middle" transform="translate(28,203.96) rotate(-90)" textLength="3.3" lengthAdjust="spacingAndGlyphs">60</text>
<line x1="29.4" y1="195.78" x2="30.6" y2="195.78" stroke="#000" stroke-width="0.5"/>
<text x="0" y="0" font-size="4.2" font-weight="normal" fill="#000" text-anchor="middle" transform="translate(28,196.58) rotate(-90)" textLength="3.3" lengthAdjust="spacingAndGlyphs">80</text>
<line x1="29.4" y1="188.4" x2="30.6" y2="188.4" stroke="#000" stroke-width="0.5"/>
<text x="0" y="0" font-size="4.2" font-weight="normal" fill="#000" text-anchor="middle" transform="translate(28,190.7) rotate(-90)" textLength="4.6" lengthAdjust="spacingAndGlyphs">100</text>
<text x="0" y="0" font-size="4.3" font-weight="normal" fill="#111" text-anchor="middle" transform="translate(22.7,206.85) rotate(-90)" textLength="13.4" lengthAdjust="spacingAndGlyphs">Counts</text>
<rect x="103.3" y="188.2" width="48.2" height="37.8" fill="none" stroke="#000" stroke-width="0.8"/>
<path d="M103.3 226 L103.3 225.2 L103.8 225.2 L104.3 225.2 L104.8 225.2 L105.3 225.2 L105.8 225.2 L106.3 225.2 L106.8 225.2 L107.3 225.2 L107.8 225.18 L108.3 225.15 L108.8 225.07 L109.3 224.88 L109.8 224.45 L110.3 223.62 L110.8 221.29 L111.3 220.22 L111.8 216.6 L112.3 210.95 L112.8 207.35 L113.3 202.44 L113.8 197.58 L114.3 196.73 L114.8 196.61 L115.3 197.37 L115.8 197.9 L116.3 200.78 L116.8 201.68 L117.3 204.32 L117.8 207.9 L118.3 209.65 L118.8 212.77 L119.3 214.32 L119.8 216.44 L120.3 219.03 L120.8 219.95 L121.3 220.24 L121.8 222.44 L122.3 222.93 L122.8 223.57 L123.3 224.06 L123.8 224.41 L124.3 224.67 L124.8 224.85 L125.3 224.97 L125.8 225.06 L126.3 225.11 L126.8 225.15 L127.3 225.17 L127.8 225.18 L128.3 225.19 L128.8 225.19 L129.3 225.2 L129.8 225.2 L130.3 225.2 L130.8 225.2 L131.3 225.2 L131.8 225.2 L132.3 225.2 L132.8 225.2 L133.3 225.2 L133.8 225.2 L134.3 225.2 L134.8 225.2 L135.3 225.2 L135.8 225.2 L136.3 225.2 L136.8 225.2 L137.3 225.2 L137.8 225.2 L138.3 225.2 L138.8 225.2 L139.3 225.2 L139.8 225.2 L140.3 225.2 L140.8 225.2 L141.3 225.2 L141.8 225.2 L142.3 225.2 L142.8 225.2 L143.3 225.2 L143.8 225.2 L144.3 225.2 L144.8 225.2 L145.3 225.2 L145.8 225.2 L146.3 225.2 L146.8 225.2 L147.3 225.2 L147.8 225.2 L148.3 225.2 L148.8 225.2 L149.3 225.2 L149.8 225.2 L150.3 225.2 L150.8 225.2 L151.3 225.2 L151.5 226 Z" fill="#000"/>
<path d="M103.3 225.5 L103.55 225.5 L103.8 225.5 L104.05 225.5 L104.3 225.5 L104.55 225.5 L104.8 225.49 L105.05 225.49 L105.3 225.49 L105.55 225.49 L105.8 225.48 L106.05 225.47 L106.3 225.47 L106.55 225.45 L106.8 225.44 L107.05 225.42 L107.3 225.39 L107.55 225.36 L107.8 225.32 L108.05 225.27 L108.3 225.2 L108.55 225.12 L108.8 225.02 L109.05 224.9 L109.3 224.76 L109.55 224.58 L109.8 224.38 L110.05 224.13 L110.3 223.85 L110.55 223.52 L110.8 223.14 L111.05 222.7 L111.3 222.21 L111.55 221.66 L111.8 221.05 L112.05 220.37 L112.3 219.64 L112.55 218.84 L112.8 217.99 L113.05 217.09 L113.3 216.15 L113.55 215.18 L113.8 214.18 L114.05 213.17 L114.3 212.16 L114.55 211.17 L114.8 210.22 L115.05 209.31 L115.3 208.47 L115.55 207.7 L115.8 207.04 L116.05 206.48 L116.3 206.04 L116.55 205.72 L116.8 205.54 L117.05 205.5 L117.3 205.54 L117.55 205.62 L117.8 205.75 L118.05 205.94 L118.3 206.16 L118.55 206.44 L118.8 206.75 L119.05 207.11 L119.3 207.51 L119.55 207.94 L119.8 208.4 L120.05 208.9 L120.3 209.41 L120.55 209.96 L120.8 210.52 L121.05 211.09 L121.3 211.68 L121.55 212.28 L121.8 212.88 L122.05 213.49 L122.3 214.1 L122.55 214.7 L122.8 215.29 L123.05 215.88 L123.3 216.46 L123.55 217.02 L123.8 217.57 L124.05 218.1 L124.3 218.61 L124.55 219.1 L124.8 219.58 L125.05 220.03 L125.3 220.46 L125.55 220.86 L125.8 221.25 L126.05 221.61 L126.3 221.95 L126.55 222.27 L126.8 222.57 L127.05 222.85 L127.3 223.1 L127.55 223.34 L127.8 223.56 L128.05 223.76 L128.3 223.94 L128.55 224.11 L128.8 224.27 L129.05 224.4 L129.3 224.53 L129.55 224.64 L129.8 224.75 L130.05 224.84 L130.3 224.92 L130.55 224.99 L130.8 225.06 L131.05 225.11 L131.3 225.17 L131.55 225.21 L131.8 225.25 L132.05 225.28 L132.3 225.31 L132.55 225.34 L132.8 225.36 L133.05 225.38 L133.3 225.4 L133.55 225.42 L133.8 225.43 L134.05 225.44 L134.3 225.45 L134.55 225.46 L134.8 225.46 L135.05 225.47 L135.3 225.48 L135.55 225.48 L135.8 225.48 L136.05 225.49 L136.3 225.49 L136.55 225.49 L136.8 225.49 L137.05 225.49 L137.3 225.49 L137.55 225.5 L137.8 225.5 L138.05 225.5 L138.3 225.5 L138.55 225.5 L138.8 225.5 L139.05 225.5 L139.3 225.5 L139.55 225.5 L139.8 225.5 L140.05 225.5 L140.3 225.5 L140.55 225.5 L140.8 225.5 L141.05 225.5 L141.3 225.5 L141.55 225.5 L141.8 225.5 L142.05 225.5 L142.3 225.5 L142.55 225.5 L142.8 225.5 L143.05 225.5 L143.3 225.5 L143.55 225.5 L143.8 225.5 L144.05 225.5 L144.3 225.5 L144.55 225.5 L144.8 225.5 L145.05 225.5 L145.3 225.5 L145.55 225.5 L145.8 225.5 L146.05 225.5 L146.3 225.5 L146.55 225.5 L146.8 225.5 L147.05 225.5 L147.3 225.5 L147.55 225.5 L147.8 225.5 L148.05 225.5 L148.3 225.5 L148.55 225.5 L148.8 225.5 L149.05 225.5 L149.3 225.5 L149.55 225.5 L149.8 225.5 L150.05 225.5 L150.3 225.5 L150.55 225.5 L150.8 225.5 L151.05 225.5 L151.3 225.5" fill="none" stroke="#111" stroke-width="0.75" stroke-dasharray="0.9 0.6"/>
<path d="M103.3 225.5 L103.55 225.5 L103.8 225.5 L104.05 225.5 L104.3 225.5 L104.55 225.5 L104.8 225.49 L105.05 225.49 L105.3 225.47 L105.55 225.46 L105.8 225.43 L106.05 225.38 L106.3 225.3 L106.55 225.18 L106.8 225 L107.05 224.74 L107.3 224.36 L107.55 223.84 L107.8 223.13 L108.05 222.18 L108.3 220.96 L108.55 219.42 L108.8 217.53 L109.05 215.28 L109.3 212.68 L109.55 209.76 L109.8 206.58 L110.05 203.25 L110.3 199.89 L110.55 196.65 L110.8 193.71 L111.05 191.21 L111.3 189.3 L111.55 188.2 L111.8 188.2 L112.05 188.2 L112.3 188.76 L112.55 190.04 L112.8 191.75 L113.05 193.84 L113.3 196.21 L113.55 198.79 L113.8 201.48 L114.05 204.21 L114.3 206.89 L114.55 209.46 L114.8 211.88 L115.05 214.09 L115.3 216.07 L115.55 217.83 L115.8 219.34 L116.05 220.62 L116.3 221.69 L116.55 222.57 L116.8 223.28 L117.05 223.84 L117.3 224.28 L117.55 224.61 L117.8 224.86 L118.05 225.05 L118.3 225.19 L118.55 225.28 L118.8 225.35 L119.05 225.4 L119.3 225.44 L119.55 225.46 L119.8 225.47 L120.05 225.48 L120.3 225.49 L120.55 225.49 L120.8 225.5 L121.05 225.5 L121.3 225.5 L121.55 225.5 L121.8 225.5 L122.05 225.5 L122.3 225.5 L122.55 225.5 L122.8 225.5 L123.05 225.5 L123.3 225.5 L123.55 225.5 L123.8 225.5 L124.05 225.5 L124.3 225.5 L124.55 225.5 L124.8 225.5 L125.05 225.5 L125.3 225.5 L125.55 225.5 L125.8 225.5 L126.05 225.5 L126.3 225.5 L126.55 225.5 L126.8 225.5 L127.05 225.5 L127.3 225.5 L127.55 225.5 L127.8 225.5 L128.05 225.5 L128.3 225.5 L128.55 225.5 L128.8 225.5 L129.05 225.5 L129.3 225.5 L129.55 225.5 L129.8 225.5 L130.05 225.5 L130.3 225.5 L130.55 225.5 L130.8 225.5 L131.05 225.5 L131.3 225.5 L131.55 225.5 L131.8 225.5 L132.05 225.5 L132.3 225.5 L132.55 225.5 L132.8 225.5 L133.05 225.5 L133.3 225.5 L133.55 225.5 L133.8 225.5 L134.05 225.5 L134.3 225.5 L134.55 225.5 L134.8 225.5 L135.05 225.5 L135.3 225.5 L135.55 225.5 L135.8 225.5 L136.05 225.5 L136.3 225.5 L136.55 225.5 L136.8 225.5 L137.05 225.5 L137.3 225.5 L137.55 225.5 L137.8 225.5 L138.05 225.5 L138.3 225.5 L138.55 225.5 L138.8 225.5 L139.05 225.5 L139.3 225.5 L139.55 225.5 L139.8 225.5 L140.05 225.5 L140.3 225.5 L140.55 225.5 L140.8 225.5 L141.05 225.5 L141.3 225.5 L141.55 225.5 L141.8 225.5 L142.05 225.5 L142.3 225.5 L142.55 225.5 L142.8 225.5 L143.05 225.5 L143.3 225.5 L143.55 225.5 L143.8 225.5 L144.05 225.5 L144.3 225.5 L144.55 225.5 L144.8 225.5 L145.05 225.5 L145.3 225.5 L145.55 225.5 L145.8 225.5 L146.05 225.5 L146.3 225.5 L146.55 225.5 L146.8 225.5 L147.05 225.5 L147.3 225.5 L147.55 225.5 L147.8 225.5 L148.05 225.5 L148.3 225.5 L148.55 225.5 L148.8 225.5 L149.05 225.5 L149.3 225.5 L149.55 225.5 L149.8 225.5 L150.05 225.5 L150.3 225.5 L150.55 225.5 L150.8 225.5 L151.05 225.5 L151.3 225.5" fill="none" stroke="#000" stroke-width="0.75"/>
<line x1="103.3" y1="226" x2="151.5" y2="226" stroke="#000" stroke-width="1.3"/>
<text x="128.2" y="195.5" font-size="5.2" font-weight="bold" fill="#000" text-anchor="start" textLength="13.9" lengthAdjust="spacingAndGlyphs" stroke="#000" stroke-width="0.15">INA-6</text>
<line x1="128.2" y1="196.2" x2="142.1" y2="196.2" stroke="#000" stroke-width="0.5"/>
<text x="128.7" y="198.8" font-size="2.9" font-weight="bold" fill="#111" text-anchor="start" textLength="12.9" lengthAdjust="spacingAndGlyphs">shRNA3</text>
<line x1="104.8" y1="226" x2="104.8" y2="227.3" stroke="#000" stroke-width="0.5"/>
<text x="104.2" y="233" font-size="4.2" font-weight="normal" fill="#111" text-anchor="middle" >10<tspan dy="-1.8" font-size="2.9">0</tspan></text>
<line x1="116.47" y1="226" x2="116.47" y2="227.3" stroke="#000" stroke-width="0.5"/>
<text x="115.88" y="233" font-size="4.2" font-weight="normal" fill="#111" text-anchor="middle" >10<tspan dy="-1.8" font-size="2.9">1</tspan></text>
<line x1="128.15" y1="226" x2="128.15" y2="227.3" stroke="#000" stroke-width="0.5"/>
<text x="127.55" y="233" font-size="4.2" font-weight="normal" fill="#111" text-anchor="middle" >10<tspan dy="-1.8" font-size="2.9">2</tspan></text>
<line x1="139.82" y1="226" x2="139.82" y2="227.3" stroke="#000" stroke-width="0.5"/>
<text x="139.22" y="233" font-size="4.2" font-weight="normal" fill="#111" text-anchor="middle" >10<tspan dy="-1.8" font-size="2.9">3</tspan></text>
<line x1="151.5" y1="226" x2="151.5" y2="227.3" stroke="#000" stroke-width="0.5"/>
<text x="150.9" y="233" font-size="4.2" font-weight="normal" fill="#111" text-anchor="middle" >10<tspan dy="-1.8" font-size="2.9">4</tspan></text>
<text x="127.1" y="237.6" font-size="4.1" font-weight="normal" fill="#111" text-anchor="middle" >FL1-H</text>
<line x1="102.1" y1="226" x2="103.3" y2="226" stroke="#000" stroke-width="0.5"/>
<text x="0" y="0" font-size="4.2" font-weight="normal" fill="#000" text-anchor="middle" transform="translate(100.7,225) rotate(-90)" textLength="1.8" lengthAdjust="spacingAndGlyphs">0</text>
<line x1="102.1" y1="218.44" x2="103.3" y2="218.44" stroke="#000" stroke-width="0.5"/>
<text x="0" y="0" font-size="4.2" font-weight="normal" fill="#000" text-anchor="middle" transform="translate(100.7,219.24) rotate(-90)" textLength="3.3" lengthAdjust="spacingAndGlyphs">20</text>
<line x1="102.1" y1="210.88" x2="103.3" y2="210.88" stroke="#000" stroke-width="0.5"/>
<text x="0" y="0" font-size="4.2" font-weight="normal" fill="#000" text-anchor="middle" transform="translate(100.7,211.68) rotate(-90)" textLength="3.3" lengthAdjust="spacingAndGlyphs">40</text>
<line x1="102.1" y1="203.32" x2="103.3" y2="203.32" stroke="#000" stroke-width="0.5"/>
<text x="0" y="0" font-size="4.2" font-weight="normal" fill="#000" text-anchor="middle" transform="translate(100.7,204.12) rotate(-90)" textLength="3.3" lengthAdjust="spacingAndGlyphs">60</text>
<line x1="102.1" y1="195.76" x2="103.3" y2="195.76" stroke="#000" stroke-width="0.5"/>
<text x="0" y="0" font-size="4.2" font-weight="normal" fill="#000" text-anchor="middle" transform="translate(100.7,196.56) rotate(-90)" textLength="3.3" lengthAdjust="spacingAndGlyphs">80</text>
<line x1="102.1" y1="188.2" x2="103.3" y2="188.2" stroke="#000" stroke-width="0.5"/>
<text x="0" y="0" font-size="4.2" font-weight="normal" fill="#000" text-anchor="middle" transform="translate(100.7,190.5) rotate(-90)" textLength="4.6" lengthAdjust="spacingAndGlyphs">100</text>
<text x="0" y="0" font-size="4.3" font-weight="normal" fill="#111" text-anchor="middle" transform="translate(95.4,207.1) rotate(-90)" textLength="13.4" lengthAdjust="spacingAndGlyphs">Counts</text>
<rect x="30.4" y="243.6" width="51.6" height="38.4" fill="none" stroke="#000" stroke-width="0.8"/>
<path d="M30.4 282 L30.4 281.2 L30.9 281.2 L31.4 281.2 L31.9 281.2 L32.4 281.19 L32.9 281.19 L33.4 281.17 L33.9 281.13 L34.4 281.07 L34.9 280.95 L35.4 280.76 L35.9 280.43 L36.4 279.92 L36.9 279.16 L37.4 278.75 L37.9 276.8 L38.4 274.24 L38.9 272.82 L39.4 270.84 L39.9 267.6 L40.4 265.93 L40.9 263.49 L41.4 262.79 L41.9 261.26 L42.4 262.56 L42.9 262.34 L43.4 261.55 L43.9 263.57 L44.4 263.67 L44.9 264.8 L45.4 265.31 L45.9 265.92 L46.4 266.22 L46.9 267.28 L47.4 269.5 L47.9 269.75 L48.4 271.37 L48.9 273.04 L49.4 273.73 L49.9 274.58 L50.4 275.31 L50.9 275.04 L51.4 276.13 L51.9 278.07 L52.4 277.79 L52.9 278.84 L53.4 278.92 L53.9 279.32 L54.4 279.66 L54.9 279.95 L55.4 280.2 L55.9 280.4 L56.4 280.57 L56.9 280.7 L57.4 280.81 L57.9 280.9 L58.4 280.97 L58.9 281.03 L59.4 281.07 L59.9 281.1 L60.4 281.13 L60.9 281.15 L61.4 281.16 L61.9 281.17 L62.4 281.18 L62.9 281.19 L63.4 281.19 L63.9 281.19 L64.4 281.2 L64.9 281.2 L65.4 281.2 L65.9 281.2 L66.4 281.2 L66.9 281.2 L67.4 281.2 L67.9 281.2 L68.4 281.2 L68.9 281.2 L69.4 281.2 L69.9 281.2 L70.4 281.2 L70.9 281.2 L71.4 281.2 L71.9 281.2 L72.4 281.2 L72.9 281.2 L73.4 281.2 L73.9 281.2 L74.4 281.2 L74.9 281.2 L75.4 281.2 L75.9 281.2 L76.4 281.2 L76.9 281.2 L77.4 281.2 L77.9 281.2 L78.4 281.2 L78.9 281.2 L79.4 281.2 L79.9 281.2 L80.4 281.2 L80.9 281.2 L81.4 281.2 L81.9 281.2 L82 282 Z" fill="#000"/>
<path d="M30.4 281.5 L30.65 281.5 L30.9 281.5 L31.15 281.5 L31.4 281.5 L31.65 281.5 L31.9 281.5 L32.15 281.5 L32.4 281.5 L32.65 281.5 L32.9 281.5 L33.15 281.5 L33.4 281.5 L33.65 281.5 L33.9 281.5 L34.15 281.5 L34.4 281.5 L34.65 281.5 L34.9 281.5 L35.15 281.5 L35.4 281.5 L35.65 281.5 L35.9 281.5 L36.15 281.5 L36.4 281.5 L36.65 281.5 L36.9 281.5 L37.15 281.5 L37.4 281.5 L37.65 281.5 L37.9 281.5 L38.15 281.5 L38.4 281.5 L38.65 281.5 L38.9 281.5 L39.15 281.5 L39.4 281.5 L39.65 281.5 L39.9 281.5 L40.15 281.5 L40.4 281.5 L40.65 281.5 L40.9 281.5 L41.15 281.5 L41.4 281.5 L41.65 281.5 L41.9 281.5 L42.15 281.5 L42.4 281.5 L42.65 281.5 L42.9 281.5 L43.15 281.5 L43.4 281.5 L43.65 281.5 L43.9 281.5 L44.15 281.5 L44.4 281.5 L44.65 281.5 L44.9 281.5 L45.15 281.5 L45.4 281.5 L45.65 281.5 L45.9 281.5 L46.15 281.5 L46.4 281.49 L46.65 281.49 L46.9 281.48 L47.15 281.47 L47.4 281.46 L47.65 281.45 L47.9 281.42 L48.15 281.39 L48.4 281.34 L48.65 281.28 L48.9 281.2 L49.15 281.09 L49.4 280.94 L49.65 280.75 L49.9 280.51 L50.15 280.21 L50.4 279.83 L50.65 279.36 L50.9 278.79 L51.15 278.11 L51.4 277.3 L51.65 276.36 L51.9 275.27 L52.15 274.04 L52.4 272.65 L52.65 271.12 L52.9 269.45 L53.15 267.68 L53.4 265.8 L53.65 263.87 L53.9 261.91 L54.15 259.98 L54.4 258.1 L54.65 256.34 L54.9 254.73 L55.15 253.33 L55.4 252.18 L55.65 251.3 L55.9 250.74 L56.15 250.51 L56.4 250.61 L56.65 251.04 L56.9 251.79 L57.15 252.84 L57.4 254.14 L57.65 255.67 L57.9 257.38 L58.15 259.22 L58.4 261.13 L58.65 263.09 L58.9 265.04 L59.15 266.94 L59.4 268.76 L59.65 270.47 L59.9 272.05 L60.15 273.5 L60.4 274.8 L60.65 275.94 L60.9 276.94 L61.15 277.8 L61.4 278.54 L61.65 279.15 L61.9 279.65 L62.15 280.07 L62.4 280.4 L62.65 280.66 L62.9 280.87 L63.15 281.03 L63.4 281.16 L63.65 281.25 L63.9 281.32 L64.15 281.37 L64.4 281.41 L64.65 281.44 L64.9 281.46 L65.15 281.47 L65.4 281.48 L65.65 281.49 L65.9 281.49 L66.15 281.49 L66.4 281.5 L66.65 281.5 L66.9 281.5 L67.15 281.5 L67.4 281.5 L67.65 281.5 L67.9 281.5 L68.15 281.5 L68.4 281.5 L68.65 281.5 L68.9 281.5 L69.15 281.5 L69.4 281.5 L69.65 281.5 L69.9 281.5 L70.15 281.5 L70.4 281.5 L70.65 281.5 L70.9 281.5 L71.15 281.5 L71.4 281.5 L71.65 281.5 L71.9 281.5 L72.15 281.5 L72.4 281.5 L72.65 281.5 L72.9 281.5 L73.15 281.5 L73.4 281.5 L73.65 281.5 L73.9 281.5 L74.15 281.5 L74.4 281.5 L74.65 281.5 L74.9 281.5 L75.15 281.5 L75.4 281.5 L75.65 281.5 L75.9 281.5 L76.15 281.5 L76.4 281.5 L76.65 281.5 L76.9 281.5 L77.15 281.5 L77.4 281.5 L77.65 281.5 L77.9 281.5 L78.15 281.5 L78.4 281.5 L78.65 281.5 L78.9 281.5 L79.15 281.5 L79.4 281.5 L79.65 281.5 L79.9 281.5 L80.15 281.5 L80.4 281.5 L80.65 281.5 L80.9 281.5 L81.15 281.5 L81.4 281.5 L81.65 281.5 L81.9 281.5" fill="none" stroke="#111" stroke-width="0.75" stroke-dasharray="0.9 0.6"/>
<path d="M30.4 281.5 L30.65 281.5 L30.9 281.5 L31.15 281.5 L31.4 281.5 L31.65 281.5 L31.9 281.5 L32.15 281.49 L32.4 281.48 L32.65 281.47 L32.9 281.43 L33.15 281.38 L33.4 281.29 L33.65 281.13 L33.9 280.88 L34.15 280.5 L34.4 279.93 L34.65 279.11 L34.9 277.99 L35.15 276.5 L35.4 274.6 L35.65 272.27 L35.9 269.56 L36.15 266.52 L36.4 263.3 L36.65 260.09 L36.9 257.1 L37.15 254.57 L37.4 252.7 L37.65 251.67 L37.9 251.53 L38.15 251.82 L38.4 252.42 L38.65 253.32 L38.9 254.49 L39.15 255.89 L39.4 257.48 L39.65 259.21 L39.9 261.04 L40.15 262.93 L40.4 264.82 L40.65 266.68 L40.9 268.47 L41.15 270.17 L41.4 271.76 L41.65 273.21 L41.9 274.53 L42.15 275.7 L42.4 276.72 L42.65 277.61 L42.9 278.36 L43.15 279 L43.4 279.53 L43.65 279.96 L43.9 280.31 L44.15 280.59 L44.4 280.82 L44.65 280.99 L44.9 281.12 L45.15 281.22 L45.4 281.3 L45.65 281.36 L45.9 281.4 L46.15 281.43 L46.4 281.45 L46.65 281.47 L46.9 281.48 L47.15 281.48 L47.4 281.49 L47.65 281.49 L47.9 281.5 L48.15 281.5 L48.4 281.5 L48.65 281.5 L48.9 281.5 L49.15 281.5 L49.4 281.5 L49.65 281.5 L49.9 281.5 L50.15 281.5 L50.4 281.5 L50.65 281.5 L50.9 281.5 L51.15 281.5 L51.4 281.5 L51.65 281.5 L51.9 281.5 L52.15 281.5 L52.4 281.5 L52.65 281.5 L52.9 281.5 L53.15 281.5 L53.4 281.5 L53.65 281.5 L53.9 281.5 L54.15 281.5 L54.4 281.5 L54.65 281.5 L54.9 281.5 L55.15 281.5 L55.4 281.5 L55.65 281.5 L55.9 281.5 L56.15 281.5 L56.4 281.5 L56.65 281.5 L56.9 281.5 L57.15 281.5 L57.4 281.5 L57.65 281.5 L57.9 281.5 L58.15 281.5 L58.4 281.5 L58.65 281.5 L58.9 281.5 L59.15 281.5 L59.4 281.5 L59.65 281.5 L59.9 281.5 L60.15 281.5 L60.4 281.5 L60.65 281.5 L60.9 281.5 L61.15 281.5 L61.4 281.5 L61.65 281.5 L61.9 281.5 L62.15 281.5 L62.4 281.5 L62.65 281.5 L62.9 281.5 L63.15 281.5 L63.4 281.5 L63.65 281.5 L63.9 281.5 L64.15 281.5 L64.4 281.5 L64.65 281.5 L64.9 281.5 L65.15 281.5 L65.4 281.5 L65.65 281.5 L65.9 281.5 L66.15 281.5 L66.4 281.5 L66.65 281.5 L66.9 281.5 L67.15 281.5 L67.4 281.5 L67.65 281.5 L67.9 281.5 L68.15 281.5 L68.4 281.5 L68.65 281.5 L68.9 281.5 L69.15 281.5 L69.4 281.5 L69.65 281.5 L69.9 281.5 L70.15 281.5 L70.4 281.5 L70.65 281.5 L70.9 281.5 L71.15 281.5 L71.4 281.5 L71.65 281.5 L71.9 281.5 L72.15 281.5 L72.4 281.5 L72.65 281.5 L72.9 281.5 L73.15 281.5 L73.4 281.5 L73.65 281.5 L73.9 281.5 L74.15 281.5 L74.4 281.5 L74.65 281.5 L74.9 281.5 L75.15 281.5 L75.4 281.5 L75.65 281.5 L75.9 281.5 L76.15 281.5 L76.4 281.5 L76.65 281.5 L76.9 281.5 L77.15 281.5 L77.4 281.5 L77.65 281.5 L77.9 281.5 L78.15 281.5 L78.4 281.5 L78.65 281.5 L78.9 281.5 L79.15 281.5 L79.4 281.5 L79.65 281.5 L79.9 281.5 L80.15 281.5 L80.4 281.5 L80.65 281.5 L80.9 281.5 L81.15 281.5 L81.4 281.5 L81.65 281.5 L81.9 281.5" fill="none" stroke="#000" stroke-width="0.75"/>
<line x1="30.4" y1="282" x2="82" y2="282" stroke="#000" stroke-width="1.3"/>
<text x="61.8" y="250.9" font-size="5.2" font-weight="bold" fill="#000" text-anchor="start" textLength="13.8" lengthAdjust="spacingAndGlyphs" stroke="#000" stroke-width="0.15">MM1S</text>
<line x1="61.8" y1="251.6" x2="75.6" y2="251.6" stroke="#000" stroke-width="0.5"/>
<text x="62.3" y="254.2" font-size="2.9" font-weight="bold" fill="#111" text-anchor="start" textLength="12.8" lengthAdjust="spacingAndGlyphs">shRNA2</text>
<line x1="31.9" y1="282" x2="31.9" y2="283.3" stroke="#000" stroke-width="0.5"/>
<text x="31.3" y="289" font-size="4.2" font-weight="normal" fill="#111" text-anchor="middle" >10<tspan dy="-1.8" font-size="2.9">0</tspan></text>
<line x1="44.42" y1="282" x2="44.42" y2="283.3" stroke="#000" stroke-width="0.5"/>
<text x="43.82" y="289" font-size="4.2" font-weight="normal" fill="#111" text-anchor="middle" >10<tspan dy="-1.8" font-size="2.9">1</tspan></text>
<line x1="56.95" y1="282" x2="56.95" y2="283.3" stroke="#000" stroke-width="0.5"/>
<text x="56.35" y="289" font-size="4.2" font-weight="normal" fill="#111" text-anchor="middle" >10<tspan dy="-1.8" font-size="2.9">2</tspan></text>
<line x1="69.47" y1="282" x2="69.47" y2="283.3" stroke="#000" stroke-width="0.5"/>
<text x="68.88" y="289" font-size="4.2" font-weight="normal" fill="#111" text-anchor="middle" >10<tspan dy="-1.8" font-size="2.9">3</tspan></text>
<line x1="82" y1="282" x2="82" y2="283.3" stroke="#000" stroke-width="0.5"/>
<text x="81.4" y="289" font-size="4.2" font-weight="normal" fill="#111" text-anchor="middle" >10<tspan dy="-1.8" font-size="2.9">4</tspan></text>
<text x="55.9" y="293.6" font-size="4.1" font-weight="normal" fill="#111" text-anchor="middle" >FL1-H</text>
<line x1="29.2" y1="282" x2="30.4" y2="282" stroke="#000" stroke-width="0.5"/>
<text x="0" y="0" font-size="4.2" font-weight="normal" fill="#000" text-anchor="middle" transform="translate(27.8,281) rotate(-90)" textLength="1.8" lengthAdjust="spacingAndGlyphs">0</text>
<line x1="29.2" y1="274.32" x2="30.4" y2="274.32" stroke="#000" stroke-width="0.5"/>
<text x="0" y="0" font-size="4.2" font-weight="normal" fill="#000" text-anchor="middle" transform="translate(27.8,275.12) rotate(-90)" textLength="3.3" lengthAdjust="spacingAndGlyphs">20</text>
<line x1="29.2" y1="266.64" x2="30.4" y2="266.64" stroke="#000" stroke-width="0.5"/>
<text x="0" y="0" font-size="4.2" font-weight="normal" fill="#000" text-anchor="middle" transform="translate(27.8,267.44) rotate(-90)" textLength="3.3" lengthAdjust="spacingAndGlyphs">40</text>
<line x1="29.2" y1="258.96" x2="30.4" y2="258.96" stroke="#000" stroke-width="0.5"/>
<text x="0" y="0" font-size="4.2" font-weight="normal" fill="#000" text-anchor="middle" transform="translate(27.8,259.76) rotate(-90)" textLength="3.3" lengthAdjust="spacingAndGlyphs">60</text>
<line x1="29.2" y1="251.28" x2="30.4" y2="251.28" stroke="#000" stroke-width="0.5"/>
<text x="0" y="0" font-size="4.2" font-weight="normal" fill="#000" text-anchor="middle" transform="translate(27.8,252.08) rotate(-90)" textLength="3.3" lengthAdjust="spacingAndGlyphs">80</text>
<line x1="29.2" y1="243.6" x2="30.4" y2="243.6" stroke="#000" stroke-width="0.5"/>
<text x="0" y="0" font-size="4.2" font-weight="normal" fill="#000" text-anchor="middle" transform="translate(27.8,245.9) rotate(-90)" textLength="4.6" lengthAdjust="spacingAndGlyphs">100</text>
<text x="0" y="0" font-size="4.3" font-weight="normal" fill="#111" text-anchor="middle" transform="translate(22.5,262.8) rotate(-90)" textLength="13.4" lengthAdjust="spacingAndGlyphs">Counts</text>
<rect x="104.4" y="244.3" width="50.1" height="38" fill="none" stroke="#000" stroke-width="0.8"/>
<path d="M104.4 282.3 L104.4 281.5 L104.9 281.5 L105.4 281.5 L105.9 281.48 L106.4 281.44 L106.9 281.28 L107.4 280.86 L107.9 279.88 L108.4 277.42 L108.9 275.06 L109.4 270.13 L109.9 266.25 L110.4 262.46 L110.9 261.47 L111.4 261.43 L111.9 262.01 L112.4 261.84 L112.9 263.14 L113.4 263.88 L113.9 265.45 L114.4 264.71 L114.9 266.62 L115.4 268.07 L115.9 268.82 L116.4 269.43 L116.9 270.67 L117.4 270.95 L117.9 272.67 L118.4 273.34 L118.9 274.75 L119.4 274.23 L119.9 275.27 L120.4 276.22 L120.9 277.68 L121.4 278.27 L121.9 278.13 L122.4 279.27 L122.9 279.29 L123.4 279.66 L123.9 279.98 L124.4 280.25 L124.9 280.48 L125.4 280.68 L125.9 280.84 L126.4 280.98 L126.9 281.09 L127.4 281.18 L127.9 281.25 L128.4 281.3 L128.9 281.35 L129.4 281.39 L129.9 281.41 L130.4 281.44 L130.9 281.45 L131.4 281.46 L131.9 281.47 L132.4 281.48 L132.9 281.49 L133.4 281.49 L133.9 281.49 L134.4 281.5 L134.9 281.5 L135.4 281.5 L135.9 281.5 L136.4 281.5 L136.9 281.5 L137.4 281.5 L137.9 281.5 L138.4 281.5 L138.9 281.5 L139.4 281.5 L139.9 281.5 L140.4 281.5 L140.9 281.5 L141.4 281.5 L141.9 281.5 L142.4 281.5 L142.9 281.5 L143.4 281.5 L143.9 281.5 L144.4 281.5 L144.9 281.5 L145.4 281.5 L145.9 281.5 L146.4 281.5 L146.9 281.5 L147.4 281.5 L147.9 281.5 L148.4 281.5 L148.9 281.5 L149.4 281.5 L149.9 281.5 L150.4 281.5 L150.9 281.5 L151.4 281.5 L151.9 281.5 L152.4 281.5 L152.9 281.5 L153.4 281.5 L153.9 281.5 L154.4 281.5 L154.5 282.3 Z" fill="#000"/>
<path d="M104.4 281.8 L104.65 281.8 L104.9 281.8 L105.15 281.8 L105.4 281.8 L105.65 281.8 L105.9 281.8 L106.15 281.8 L106.4 281.8 L106.65 281.8 L106.9 281.8 L107.15 281.8 L107.4 281.8 L107.65 281.8 L107.9 281.8 L108.15 281.8 L108.4 281.8 L108.65 281.8 L108.9 281.8 L109.15 281.8 L109.4 281.8 L109.65 281.8 L109.9 281.8 L110.15 281.8 L110.4 281.8 L110.65 281.8 L110.9 281.8 L111.15 281.8 L111.4 281.8 L111.65 281.8 L111.9 281.8 L112.15 281.8 L112.4 281.8 L112.65 281.8 L112.9 281.8 L113.15 281.8 L113.4 281.8 L113.65 281.8 L113.9 281.8 L114.15 281.8 L114.4 281.8 L114.65 281.8 L114.9 281.8 L115.15 281.8 L115.4 281.8 L115.65 281.8 L115.9 281.8 L116.15 281.8 L116.4 281.8 L116.65 281.8 L116.9 281.8 L117.15 281.8 L117.4 281.8 L117.65 281.8 L117.9 281.8 L118.15 281.8 L118.4 281.8 L118.65 281.8 L118.9 281.8 L119.15 281.8 L119.4 281.8 L119.65 281.8 L119.9 281.79 L120.15 281.79 L120.4 281.79 L120.65 281.78 L120.9 281.77 L121.15 281.76 L121.4 281.75 L121.65 281.72 L121.9 281.69 L122.15 281.64 L122.4 281.58 L122.65 281.5 L122.9 281.4 L123.15 281.26 L123.4 281.09 L123.65 280.86 L123.9 280.58 L124.15 280.24 L124.4 279.81 L124.65 279.3 L124.9 278.69 L125.15 277.97 L125.4 277.14 L125.65 276.19 L125.9 275.12 L126.15 273.94 L126.4 272.63 L126.65 271.23 L126.9 269.75 L127.15 268.21 L127.4 266.64 L127.65 265.06 L127.9 263.53 L128.15 262.06 L128.4 260.71 L128.65 259.51 L128.9 258.5 L129.15 257.7 L129.4 257.14 L129.65 256.85 L129.9 256.82 L130.15 257.06 L130.4 257.57 L130.65 258.32 L130.9 259.29 L131.15 260.46 L131.4 261.78 L131.65 263.23 L131.9 264.75 L132.15 266.32 L132.4 267.9 L132.65 269.45 L132.9 270.94 L133.15 272.36 L133.4 273.68 L133.65 274.9 L133.9 275.99 L134.15 276.96 L134.4 277.82 L134.65 278.56 L134.9 279.19 L135.15 279.72 L135.4 280.16 L135.65 280.52 L135.9 280.81 L136.15 281.05 L136.4 281.23 L136.65 281.37 L136.9 281.49 L137.15 281.57 L137.4 281.63 L137.65 281.68 L137.9 281.72 L138.15 281.74 L138.4 281.76 L138.65 281.77 L138.9 281.78 L139.15 281.79 L139.4 281.79 L139.65 281.79 L139.9 281.8 L140.15 281.8 L140.4 281.8 L140.65 281.8 L140.9 281.8 L141.15 281.8 L141.4 281.8 L141.65 281.8 L141.9 281.8 L142.15 281.8 L142.4 281.8 L142.65 281.8 L142.9 281.8 L143.15 281.8 L143.4 281.8 L143.65 281.8 L143.9 281.8 L144.15 281.8 L144.4 281.8 L144.65 281.8 L144.9 281.8 L145.15 281.8 L145.4 281.8 L145.65 281.8 L145.9 281.8 L146.15 281.8 L146.4 281.8 L146.65 281.8 L146.9 281.8 L147.15 281.8 L147.4 281.8 L147.65 281.8 L147.9 281.8 L148.15 281.8 L148.4 281.8 L148.65 281.8 L148.9 281.8 L149.15 281.8 L149.4 281.8 L149.65 281.8 L149.9 281.8 L150.15 281.8 L150.4 281.8 L150.65 281.8 L150.9 281.8 L151.15 281.8 L151.4 281.8 L151.65 281.8 L151.9 281.8 L152.15 281.8 L152.4 281.8 L152.65 281.8 L152.9 281.8 L153.15 281.8 L153.4 281.8 L153.65 281.8 L153.9 281.8 L154.15 281.8 L154.4 281.8" fill="none" stroke="#111" stroke-width="0.75" stroke-dasharray="0.9 0.6"/>
<path d="M104.4 281.8 L104.65 281.8 L104.9 281.8 L105.15 281.79 L105.4 281.78 L105.65 281.75 L105.9 281.7 L106.15 281.61 L106.4 281.44 L106.65 281.16 L106.9 280.7 L107.15 279.99 L107.4 278.95 L107.65 277.49 L107.9 275.57 L108.15 273.17 L108.4 270.35 L108.65 267.27 L108.9 264.13 L109.15 261.24 L109.4 258.88 L109.65 257.34 L109.9 256.8 L110.15 256.89 L110.4 257.14 L110.65 257.57 L110.9 258.15 L111.15 258.88 L111.4 259.74 L111.65 260.71 L111.9 261.78 L112.15 262.93 L112.4 264.13 L112.65 265.38 L112.9 266.64 L113.15 267.9 L113.4 269.14 L113.65 270.35 L113.9 271.52 L114.15 272.63 L114.4 273.68 L114.65 274.66 L114.9 275.57 L115.15 276.39 L115.4 277.14 L115.65 277.82 L115.9 278.42 L116.15 278.95 L116.4 279.41 L116.65 279.81 L116.9 280.16 L117.15 280.45 L117.4 280.7 L117.65 280.91 L117.9 281.09 L118.15 281.23 L118.4 281.35 L118.65 281.44 L118.9 281.52 L119.15 281.58 L119.4 281.63 L119.65 281.67 L119.9 281.7 L120.15 281.73 L120.4 281.75 L120.65 281.76 L120.9 281.77 L121.15 281.78 L121.4 281.78 L121.65 281.79 L121.9 281.79 L122.15 281.79 L122.4 281.8 L122.65 281.8 L122.9 281.8 L123.15 281.8 L123.4 281.8 L123.65 281.8 L123.9 281.8 L124.15 281.8 L124.4 281.8 L124.65 281.8 L124.9 281.8 L125.15 281.8 L125.4 281.8 L125.65 281.8 L125.9 281.8 L126.15 281.8 L126.4 281.8 L126.65 281.8 L126.9 281.8 L127.15 281.8 L127.4 281.8 L127.65 281.8 L127.9 281.8 L128.15 281.8 L128.4 281.8 L128.65 281.8 L128.9 281.8 L129.15 281.8 L129.4 281.8 L129.65 281.8 L129.9 281.8 L130.15 281.8 L130.4 281.8 L130.65 281.8 L130.9 281.8 L131.15 281.8 L131.4 281.8 L131.65 281.8 L131.9 281.8 L132.15 281.8 L132.4 281.8 L132.65 281.8 L132.9 281.8 L133.15 281.8 L133.4 281.8 L133.65 281.8 L133.9 281.8 L134.15 281.8 L134.4 281.8 L134.65 281.8 L134.9 281.8 L135.15 281.8 L135.4 281.8 L135.65 281.8 L135.9 281.8 L136.15 281.8 L136.4 281.8 L136.65 281.8 L136.9 281.8 L137.15 281.8 L137.4 281.8 L137.65 281.8 L137.9 281.8 L138.15 281.8 L138.4 281.8 L138.65 281.8 L138.9 281.8 L139.15 281.8 L139.4 281.8 L139.65 281.8 L139.9 281.8 L140.15 281.8 L140.4 281.8 L140.65 281.8 L140.9 281.8 L141.15 281.8 L141.4 281.8 L141.65 281.8 L141.9 281.8 L142.15 281.8 L142.4 281.8 L142.65 281.8 L142.9 281.8 L143.15 281.8 L143.4 281.8 L143.65 281.8 L143.9 281.8 L144.15 281.8 L144.4 281.8 L144.65 281.8 L144.9 281.8 L145.15 281.8 L145.4 281.8 L145.65 281.8 L145.9 281.8 L146.15 281.8 L146.4 281.8 L146.65 281.8 L146.9 281.8 L147.15 281.8 L147.4 281.8 L147.65 281.8 L147.9 281.8 L148.15 281.8 L148.4 281.8 L148.65 281.8 L148.9 281.8 L149.15 281.8 L149.4 281.8 L149.65 281.8 L149.9 281.8 L150.15 281.8 L150.4 281.8 L150.65 281.8 L150.9 281.8 L151.15 281.8 L151.4 281.8 L151.65 281.8 L151.9 281.8 L152.15 281.8 L152.4 281.8 L152.65 281.8 L152.9 281.8 L153.15 281.8 L153.4 281.8 L153.65 281.8 L153.9 281.8 L154.15 281.8 L154.4 281.8" fill="none" stroke="#000" stroke-width="0.75"/>
<line x1="104.4" y1="282.3" x2="154.5" y2="282.3" stroke="#000" stroke-width="1.3"/>
<text x="137.5" y="251.6" font-size="5.2" font-weight="bold" fill="#000" text-anchor="start" textLength="14.8" lengthAdjust="spacingAndGlyphs" stroke="#000" stroke-width="0.15">MM1S</text>
<line x1="137.5" y1="252.3" x2="152.3" y2="252.3" stroke="#000" stroke-width="0.5"/>
<text x="138" y="254.9" font-size="2.9" font-weight="bold" fill="#111" text-anchor="start" textLength="13.8" lengthAdjust="spacingAndGlyphs">shRNA3</text>
<line x1="105.9" y1="282.3" x2="105.9" y2="283.6" stroke="#000" stroke-width="0.5"/>
<text x="105.3" y="289.3" font-size="4.2" font-weight="normal" fill="#111" text-anchor="middle" >10<tspan dy="-1.8" font-size="2.9">0</tspan></text>
<line x1="118.05" y1="282.3" x2="118.05" y2="283.6" stroke="#000" stroke-width="0.5"/>
<text x="117.45" y="289.3" font-size="4.2" font-weight="normal" fill="#111" text-anchor="middle" >10<tspan dy="-1.8" font-size="2.9">1</tspan></text>
<line x1="130.2" y1="282.3" x2="130.2" y2="283.6" stroke="#000" stroke-width="0.5"/>
<text x="129.6" y="289.3" font-size="4.2" font-weight="normal" fill="#111" text-anchor="middle" >10<tspan dy="-1.8" font-size="2.9">2</tspan></text>
<line x1="142.35" y1="282.3" x2="142.35" y2="283.6" stroke="#000" stroke-width="0.5"/>
<text x="141.75" y="289.3" font-size="4.2" font-weight="normal" fill="#111" text-anchor="middle" >10<tspan dy="-1.8" font-size="2.9">3</tspan></text>
<line x1="154.5" y1="282.3" x2="154.5" y2="283.6" stroke="#000" stroke-width="0.5"/>
<text x="153.9" y="289.3" font-size="4.2" font-weight="normal" fill="#111" text-anchor="middle" >10<tspan dy="-1.8" font-size="2.9">4</tspan></text>
<text x="129.15" y="293.9" font-size="4.1" font-weight="normal" fill="#111" text-anchor="middle" >FL1-H</text>
<line x1="103.2" y1="282.3" x2="104.4" y2="282.3" stroke="#000" stroke-width="0.5"/>
<text x="0" y="0" font-size="4.2" font-weight="normal" fill="#000" text-anchor="middle" transform="translate(101.8,281.3) rotate(-90)" textLength="1.8" lengthAdjust="spacingAndGlyphs">0</text>
<line x1="103.2" y1="274.7" x2="104.4" y2="274.7" stroke="#000" stroke-width="0.5"/>
<text x="0" y="0" font-size="4.2" font-weight="normal" fill="#000" text-anchor="middle" transform="translate(101.8,275.5) rotate(-90)" textLength="3.3" lengthAdjust="spacingAndGlyphs">20</text>
<line x1="103.2" y1="267.1" x2="104.4" y2="267.1" stroke="#000" stroke-width="0.5"/>
<text x="0" y="0" font-size="4.2" font-weight="normal" fill="#000" text-anchor="middle" transform="translate(101.8,267.9) rotate(-90)" textLength="3.3" lengthAdjust="spacingAndGlyphs">40</text>
<line x1="103.2" y1="259.5" x2="104.4" y2="259.5" stroke="#000" stroke-width="0.5"/>
<text x="0" y="0" font-size="4.2" font-weight="normal" fill="#000" text-anchor="middle" transform="translate(101.8,260.3) rotate(-90)" textLength="3.3" lengthAdjust="spacingAndGlyphs">60</text>
<line x1="103.2" y1="251.9" x2="104.4" y2="251.9" stroke="#000" stroke-width="0.5"/>
<text x="0" y="0" font-size="4.2" font-weight="normal" fill="#000" text-anchor="middle" transform="translate(101.8,252.7) rotate(-90)" textLength="3.3" lengthAdjust="spacingAndGlyphs">80</text>
<line x1="103.2" y1="244.3" x2="104.4" y2="244.3" stroke="#000" stroke-width="0.5"/>
<text x="0" y="0" font-size="4.2" font-weight="normal" fill="#000" text-anchor="middle" transform="translate(101.8,246.6) rotate(-90)" textLength="4.6" lengthAdjust="spacingAndGlyphs">100</text>
<text x="0" y="0" font-size="4.3" font-weight="normal" fill="#111" text-anchor="middle" transform="translate(96.5,263.3) rotate(-90)" textLength="13.4" lengthAdjust="spacingAndGlyphs">Counts</text>
<rect x="32.1" y="302.1" width="51.9" height="36.5" fill="none" stroke="#000" stroke-width="0.8"/>
<path d="M32.1 338.6 L32.1 337.8 L32.6 337.8 L33.1 337.8 L33.6 337.8 L34.1 337.79 L34.6 337.79 L35.1 337.78 L35.6 337.75 L36.1 337.72 L36.6 337.65 L37.1 337.55 L37.6 337.39 L38.1 337.16 L38.6 336.83 L39.1 336.39 L39.6 335.82 L40.1 335.53 L40.6 334.99 L41.1 333.32 L41.6 332.61 L42.1 330.76 L42.6 329.9 L43.1 329.28 L43.6 329.6 L44.1 328.61 L44.6 328.48 L45.1 328.69 L45.6 328.89 L46.1 327.84 L46.6 327.54 L47.1 327.44 L47.6 327.56 L48.1 327.63 L48.6 329.31 L49.1 328.44 L49.6 327.87 L50.1 328.86 L50.6 328.12 L51.1 329.58 L51.6 328.34 L52.1 328.82 L52.6 328.36 L53.1 328.72 L53.6 329.58 L54.1 329.81 L54.6 329.08 L55.1 328.94 L55.6 329.42 L56.1 331.07 L56.6 330.38 L57.1 332.1 L57.6 332.67 L58.1 332.83 L58.6 333.94 L59.1 335.75 L59.6 335.85 L60.1 336.39 L60.6 336.82 L61.1 337.14 L61.6 337.37 L62.1 337.53 L62.6 337.64 L63.1 337.71 L63.6 337.75 L64.1 337.77 L64.6 337.79 L65.1 337.79 L65.6 337.8 L66.1 337.8 L66.6 337.8 L67.1 337.8 L67.6 337.8 L68.1 337.8 L68.6 337.8 L69.1 337.8 L69.6 337.8 L70.1 337.8 L70.6 337.8 L71.1 337.8 L71.6 337.8 L72.1 337.8 L72.6 337.8 L73.1 337.8 L73.6 337.8 L74.1 337.8 L74.6 337.8 L75.1 337.8 L75.6 337.8 L76.1 337.8 L76.6 337.8 L77.1 337.8 L77.6 337.8 L78.1 337.8 L78.6 337.8 L79.1 337.8 L79.6 337.8 L80.1 337.8 L80.6 337.8 L81.1 337.8 L81.6 337.8 L82.1 337.8 L82.6 337.8 L83.1 337.8 L83.6 337.8 L84 338.6 Z" fill="#000"/>
<path d="M32.1 338.1 L32.35 338.1 L32.6 338.1 L32.85 338.1 L33.1 338.1 L33.35 338.1 L33.6 338.1 L33.85 338.1 L34.1 338.1 L34.35 338.1 L34.6 338.1 L34.85 338.1 L35.1 338.1 L35.35 338.1 L35.6 338.1 L35.85 338.1 L36.1 338.1 L36.35 338.1 L36.6 338.1 L36.85 338.1 L37.1 338.1 L37.35 338.1 L37.6 338.1 L37.85 338.1 L38.1 338.1 L38.35 338.1 L38.6 338.1 L38.85 338.1 L39.1 338.1 L39.35 338.1 L39.6 338.1 L39.85 338.1 L40.1 338.1 L40.35 338.1 L40.6 338.1 L40.85 338.1 L41.1 338.1 L41.35 338.1 L41.6 338.1 L41.85 338.1 L42.1 338.1 L42.35 338.1 L42.6 338.1 L42.85 338.1 L43.1 338.1 L43.35 338.1 L43.6 338.1 L43.85 338.1 L44.1 338.1 L44.35 338.1 L44.6 338.1 L44.85 338.1 L45.1 338.1 L45.35 338.1 L45.6 338.1 L45.85 338.1 L46.1 338.1 L46.35 338.1 L46.6 338.1 L46.85 338.1 L47.1 338.1 L47.35 338.1 L47.6 338.1 L47.85 338.1 L48.1 338.1 L48.35 338.1 L48.6 338.1 L48.85 338.1 L49.1 338.1 L49.35 338.1 L49.6 338.1 L49.85 338.1 L50.1 338.1 L50.35 338.1 L50.6 338.1 L50.85 338.1 L51.1 338.1 L51.35 338.1 L51.6 338.1 L51.85 338.1 L52.1 338.1 L52.35 338.1 L52.6 338.1 L52.85 338.1 L53.1 338.1 L53.35 338.1 L53.6 338.1 L53.85 338.1 L54.1 338.1 L54.35 338.1 L54.6 338.1 L54.85 338.1 L55.1 338.1 L55.35 338.1 L55.6 338.1 L55.85 338.1 L56.1 338.1 L56.35 338.1 L56.6 338.1 L56.85 338.1 L57.1 338.1 L57.35 338.1 L57.6 338.1 L57.85 338.1 L58.1 338.1 L58.35 338.1 L58.6 338.1 L58.85 338.1 L59.1 338.1 L59.35 338.1 L59.6 338.09 L59.85 338.09 L60.1 338.08 L60.35 338.08 L60.6 338.06 L60.85 338.04 L61.1 338.01 L61.35 337.97 L61.6 337.91 L61.85 337.83 L62.1 337.72 L62.35 337.57 L62.6 337.37 L62.85 337.1 L63.1 336.75 L63.35 336.31 L63.6 335.74 L63.85 335.04 L64.1 334.19 L64.35 333.16 L64.6 331.94 L64.85 330.52 L65.1 328.88 L65.35 327.04 L65.6 325 L65.85 322.79 L66.1 320.43 L66.35 317.97 L66.6 315.46 L66.85 312.96 L67.1 310.55 L67.35 308.29 L67.6 306.26 L67.85 304.53 L68.1 303.16 L68.35 302.2 L68.6 302.1 L68.85 302.1 L69.1 302.1 L69.35 302.93 L69.6 304.23 L69.85 305.89 L70.1 307.86 L70.35 310.08 L70.6 312.47 L70.85 314.96 L71.1 317.47 L71.35 319.94 L71.6 322.33 L71.85 324.57 L72.1 326.65 L72.35 328.53 L72.6 330.21 L72.85 331.67 L73.1 332.93 L73.35 334 L73.6 334.89 L73.85 335.61 L74.1 336.2 L74.35 336.67 L74.6 337.04 L74.85 337.32 L75.1 337.53 L75.35 337.69 L75.6 337.81 L75.85 337.9 L76.1 337.96 L76.35 338.01 L76.6 338.04 L76.85 338.06 L77.1 338.07 L77.35 338.08 L77.6 338.09 L77.85 338.09 L78.1 338.1 L78.35 338.1 L78.6 338.1 L78.85 338.1 L79.1 338.1 L79.35 338.1 L79.6 338.1 L79.85 338.1 L80.1 338.1 L80.35 338.1 L80.6 338.1 L80.85 338.1 L81.1 338.1 L81.35 338.1 L81.6 338.1 L81.85 338.1 L82.1 338.1 L82.35 338.1 L82.6 338.1 L82.85 338.1 L83.1 338.1 L83.35 338.1 L83.6 338.1 L83.85 338.1" fill="none" stroke="#111" stroke-width="0.75" stroke-dasharray="0.9 0.6"/>
<path d="M32.1 338.1 L32.35 338.1 L32.6 338.1 L32.85 338.1 L33.1 338.1 L33.35 338.1 L33.6 338.1 L33.85 338.1 L34.1 338.1 L34.35 338.1 L34.6 338.1 L34.85 338.1 L35.1 338.1 L35.35 338.09 L35.6 338.09 L35.85 338.07 L36.1 338.04 L36.35 337.98 L36.6 337.88 L36.85 337.71 L37.1 337.42 L37.35 336.96 L37.6 336.26 L37.85 335.24 L38.1 333.82 L38.35 331.93 L38.6 329.53 L38.85 326.62 L39.1 323.28 L39.35 319.67 L39.6 316.01 L39.85 312.58 L40.1 309.69 L40.35 307.62 L40.6 306.59 L40.85 306.68 L41.1 307.76 L41.35 309.73 L41.6 312.4 L41.85 315.55 L42.1 318.93 L42.35 322.32 L42.6 325.52 L42.85 328.38 L43.1 330.83 L43.35 332.83 L43.6 334.4 L43.85 335.59 L44.1 336.44 L44.35 337.04 L44.6 337.45 L44.85 337.71 L45.1 337.87 L45.35 337.97 L45.6 338.03 L45.85 338.06 L46.1 338.08 L46.35 338.09 L46.6 338.1 L46.85 338.1 L47.1 338.1 L47.35 338.1 L47.6 338.1 L47.85 338.1 L48.1 338.1 L48.35 338.1 L48.6 338.1 L48.85 338.1 L49.1 338.1 L49.35 338.1 L49.6 338.1 L49.85 338.1 L50.1 338.1 L50.35 338.1 L50.6 338.1 L50.85 338.1 L51.1 338.1 L51.35 338.1 L51.6 338.1 L51.85 338.1 L52.1 338.1 L52.35 338.1 L52.6 338.1 L52.85 338.1 L53.1 338.1 L53.35 338.1 L53.6 338.1 L53.85 338.1 L54.1 338.1 L54.35 338.1 L54.6 338.1 L54.85 338.1 L55.1 338.1 L55.35 338.1 L55.6 338.1 L55.85 338.1 L56.1 338.1 L56.35 338.1 L56.6 338.1 L56.85 338.1 L57.1 338.1 L57.35 338.1 L57.6 338.1 L57.85 338.1 L58.1 338.1 L58.35 338.1 L58.6 338.1 L58.85 338.1 L59.1 338.1 L59.35 338.1 L59.6 338.1 L59.85 338.1 L60.1 338.1 L60.35 338.1 L60.6 338.1 L60.85 338.1 L61.1 338.1 L61.35 338.1 L61.6 338.1 L61.85 338.1 L62.1 338.1 L62.35 338.1 L62.6 338.1 L62.85 338.1 L63.1 338.1 L63.35 338.1 L63.6 338.1 L63.85 338.1 L64.1 338.1 L64.35 338.1 L64.6 338.1 L64.85 338.1 L65.1 338.1 L65.35 338.1 L65.6 338.1 L65.85 338.1 L66.1 338.1 L66.35 338.1 L66.6 338.1 L66.85 338.1 L67.1 338.1 L67.35 338.1 L67.6 338.1 L67.85 338.1 L68.1 338.1 L68.35 338.1 L68.6 338.1 L68.85 338.1 L69.1 338.1 L69.35 338.1 L69.6 338.1 L69.85 338.1 L70.1 338.1 L70.35 338.1 L70.6 338.1 L70.85 338.1 L71.1 338.1 L71.35 338.1 L71.6 338.1 L71.85 338.1 L72.1 338.1 L72.35 338.1 L72.6 338.1 L72.85 338.1 L73.1 338.1 L73.35 338.1 L73.6 338.1 L73.85 338.1 L74.1 338.1 L74.35 338.1 L74.6 338.1 L74.85 338.1 L75.1 338.1 L75.35 338.1 L75.6 338.1 L75.85 338.1 L76.1 338.1 L76.35 338.1 L76.6 338.1 L76.85 338.1 L77.1 338.1 L77.35 338.1 L77.6 338.1 L77.85 338.1 L78.1 338.1 L78.35 338.1 L78.6 338.1 L78.85 338.1 L79.1 338.1 L79.35 338.1 L79.6 338.1 L79.85 338.1 L80.1 338.1 L80.35 338.1 L80.6 338.1 L80.85 338.1 L81.1 338.1 L81.35 338.1 L81.6 338.1 L81.85 338.1 L82.1 338.1 L82.35 338.1 L82.6 338.1 L82.85 338.1 L83.1 338.1 L83.35 338.1 L83.6 338.1 L83.85 338.1" fill="none" stroke="#000" stroke-width="0.75"/>
<line x1="32.1" y1="338.6" x2="84" y2="338.6" stroke="#000" stroke-width="1.3"/>
<text x="47.9" y="309.4" font-size="5.2" font-weight="bold" fill="#000" text-anchor="start" textLength="13.1" lengthAdjust="spacingAndGlyphs" stroke="#000" stroke-width="0.15">H929</text>
<line x1="47.9" y1="310.1" x2="61" y2="310.1" stroke="#000" stroke-width="0.5"/>
<text x="48.4" y="312.7" font-size="2.9" font-weight="bold" fill="#111" text-anchor="start" textLength="12.1" lengthAdjust="spacingAndGlyphs">shRNA2</text>
<line x1="33.6" y1="338.6" x2="33.6" y2="339.9" stroke="#000" stroke-width="0.5"/>
<text x="33" y="345.6" font-size="4.2" font-weight="normal" fill="#111" text-anchor="middle" >10<tspan dy="-1.8" font-size="2.9">0</tspan></text>
<line x1="46.2" y1="338.6" x2="46.2" y2="339.9" stroke="#000" stroke-width="0.5"/>
<text x="45.6" y="345.6" font-size="4.2" font-weight="normal" fill="#111" text-anchor="middle" >10<tspan dy="-1.8" font-size="2.9">1</tspan></text>
<line x1="58.8" y1="338.6" x2="58.8" y2="339.9" stroke="#000" stroke-width="0.5"/>
<text x="58.2" y="345.6" font-size="4.2" font-weight="normal" fill="#111" text-anchor="middle" >10<tspan dy="-1.8" font-size="2.9">2</tspan></text>
<line x1="71.4" y1="338.6" x2="71.4" y2="339.9" stroke="#000" stroke-width="0.5"/>
<text x="70.8" y="345.6" font-size="4.2" font-weight="normal" fill="#111" text-anchor="middle" >10<tspan dy="-1.8" font-size="2.9">3</tspan></text>
<line x1="84" y1="338.6" x2="84" y2="339.9" stroke="#000" stroke-width="0.5"/>
<text x="83.4" y="345.6" font-size="4.2" font-weight="normal" fill="#111" text-anchor="middle" >10<tspan dy="-1.8" font-size="2.9">4</tspan></text>
<text x="57.75" y="350.2" font-size="4.1" font-weight="normal" fill="#111" text-anchor="middle" >FL1-H</text>
<line x1="30.9" y1="338.6" x2="32.1" y2="338.6" stroke="#000" stroke-width="0.5"/>
<text x="0" y="0" font-size="4.2" font-weight="normal" fill="#000" text-anchor="middle" transform="translate(29.5,337.6) rotate(-90)" textLength="1.8" lengthAdjust="spacingAndGlyphs">0</text>
<line x1="30.9" y1="331.3" x2="32.1" y2="331.3" stroke="#000" stroke-width="0.5"/>
<text x="0" y="0" font-size="4.2" font-weight="normal" fill="#000" text-anchor="middle" transform="translate(29.5,332.1) rotate(-90)" textLength="3.3" lengthAdjust="spacingAndGlyphs">20</text>
<line x1="30.9" y1="324" x2="32.1" y2="324" stroke="#000" stroke-width="0.5"/>
<text x="0" y="0" font-size="4.2" font-weight="normal" fill="#000" text-anchor="middle" transform="translate(29.5,324.8) rotate(-90)" textLength="3.3" lengthAdjust="spacingAndGlyphs">40</text>
<line x1="30.9" y1="316.7" x2="32.1" y2="316.7" stroke="#000" stroke-width="0.5"/>
<text x="0" y="0" font-size="4.2" font-weight="normal" fill="#000" text-anchor="middle" transform="translate(29.5,317.5) rotate(-90)" textLength="3.3" lengthAdjust="spacingAndGlyphs">60</text>
<line x1="30.9" y1="309.4" x2="32.1" y2="309.4" stroke="#000" stroke-width="0.5"/>
<text x="0" y="0" font-size="4.2" font-weight="normal" fill="#000" text-anchor="middle" transform="translate(29.5,310.2) rotate(-90)" textLength="3.3" lengthAdjust="spacingAndGlyphs">80</text>
<line x1="30.9" y1="302.1" x2="32.1" y2="302.1" stroke="#000" stroke-width="0.5"/>
<text x="0" y="0" font-size="4.2" font-weight="normal" fill="#000" text-anchor="middle" transform="translate(29.5,304.4) rotate(-90)" textLength="4.6" lengthAdjust="spacingAndGlyphs">100</text>
<text x="0" y="0" font-size="4.3" font-weight="normal" fill="#111" text-anchor="middle" transform="translate(24.2,320.35) rotate(-90)" textLength="13.4" lengthAdjust="spacingAndGlyphs">Counts</text>
<rect x="106.2" y="300.6" width="47.1" height="37.9" fill="none" stroke="#000" stroke-width="0.8"/>
<path d="M106.2 338.5 L106.2 337.69 L106.7 337.68 L107.2 337.67 L107.7 337.64 L108.2 337.59 L108.7 337.51 L109.2 337.38 L109.7 337.18 L110.2 336.9 L110.7 336.49 L111.2 335.96 L111.7 335.28 L112.2 335.14 L112.7 333.78 L113.2 332.1 L113.7 330.86 L114.2 331.28 L114.7 329.64 L115.2 329.62 L115.7 327.74 L116.2 328.65 L116.7 328.49 L117.2 327.83 L117.7 327.78 L118.2 326.93 L118.7 327.63 L119.2 328.09 L119.7 327.67 L120.2 327.68 L120.7 329.12 L121.2 329.53 L121.7 329.66 L122.2 328.57 L122.7 329.52 L123.2 329.97 L123.7 328.96 L124.2 329.85 L124.7 329.09 L125.2 329.08 L125.7 329.79 L126.2 329.57 L126.7 330.28 L127.2 330.73 L127.7 330.74 L128.2 330.61 L128.7 331.42 L129.2 333.16 L129.7 333.65 L130.2 335.51 L130.7 335.53 L131.2 336.13 L131.7 336.61 L132.2 336.97 L132.7 337.23 L133.2 337.41 L133.7 337.52 L134.2 337.6 L134.7 337.64 L135.2 337.67 L135.7 337.68 L136.2 337.69 L136.7 337.7 L137.2 337.7 L137.7 337.7 L138.2 337.7 L138.7 337.7 L139.2 337.7 L139.7 337.7 L140.2 337.7 L140.7 337.7 L141.2 337.7 L141.7 337.7 L142.2 337.7 L142.7 337.7 L143.2 337.7 L143.7 337.7 L144.2 337.7 L144.7 337.7 L145.2 337.7 L145.7 337.7 L146.2 337.7 L146.7 337.7 L147.2 337.7 L147.7 337.7 L148.2 337.7 L148.7 337.7 L149.2 337.7 L149.7 337.7 L150.2 337.7 L150.7 337.7 L151.2 337.7 L151.7 337.7 L152.2 337.7 L152.7 337.7 L153.2 337.7 L153.3 338.5 Z" fill="#000"/>
<path d="M106.2 338 L106.45 338 L106.7 338 L106.95 338 L107.2 338 L107.45 338 L107.7 338 L107.95 338 L108.2 338 L108.45 338 L108.7 338 L108.95 338 L109.2 338 L109.45 338 L109.7 338 L109.95 338 L110.2 338 L110.45 338 L110.7 338 L110.95 338 L111.2 338 L111.45 338 L111.7 338 L111.95 338 L112.2 338 L112.45 338 L112.7 338 L112.95 338 L113.2 338 L113.45 338 L113.7 338 L113.95 338 L114.2 338 L114.45 338 L114.7 338 L114.95 338 L115.2 338 L115.45 338 L115.7 338 L115.95 338 L116.2 338 L116.45 338 L116.7 338 L116.95 338 L117.2 338 L117.45 338 L117.7 338 L117.95 338 L118.2 338 L118.45 338 L118.7 338 L118.95 338 L119.2 338 L119.45 338 L119.7 338 L119.95 338 L120.2 338 L120.45 338 L120.7 338 L120.95 338 L121.2 338 L121.45 338 L121.7 338 L121.95 338 L122.2 338 L122.45 338 L122.7 338 L122.95 338 L123.2 338 L123.45 338 L123.7 338 L123.95 338 L124.2 338 L124.45 338 L124.7 338 L124.95 338 L125.2 338 L125.45 338 L125.7 338 L125.95 338 L126.2 338 L126.45 338 L126.7 338 L126.95 338 L127.2 338 L127.45 338 L127.7 338 L127.95 338 L128.2 338 L128.45 338 L128.7 337.99 L128.95 337.99 L129.2 337.98 L129.45 337.98 L129.7 337.96 L129.95 337.94 L130.2 337.92 L130.45 337.88 L130.7 337.82 L130.95 337.74 L131.2 337.63 L131.45 337.48 L131.7 337.29 L131.95 337.02 L132.2 336.68 L132.45 336.24 L132.7 335.68 L132.95 334.98 L133.2 334.13 L133.45 333.1 L133.7 331.87 L133.95 330.44 L134.2 328.79 L134.45 326.92 L134.7 324.84 L134.95 322.58 L135.2 320.15 L135.45 317.61 L135.7 315.01 L135.95 312.41 L136.2 309.88 L136.45 307.5 L136.7 305.34 L136.95 303.47 L137.2 301.97 L137.45 300.88 L137.7 300.6 L137.95 300.6 L138.2 300.6 L138.45 301.27 L138.7 302.52 L138.95 304.18 L139.2 306.17 L139.45 308.43 L139.7 310.88 L139.95 313.45 L140.2 316.06 L140.45 318.64 L140.7 321.14 L140.95 323.5 L141.2 325.7 L141.45 327.69 L141.7 329.47 L141.95 331.04 L142.2 332.39 L142.45 333.54 L142.7 334.49 L142.95 335.28 L143.2 335.92 L143.45 336.43 L143.7 336.83 L143.95 337.14 L144.2 337.37 L144.45 337.55 L144.7 337.68 L144.95 337.78 L145.2 337.85 L145.45 337.89 L145.7 337.93 L145.95 337.95 L146.2 337.97 L146.45 337.98 L146.7 337.99 L146.95 337.99 L147.2 338 L147.45 338 L147.7 338 L147.95 338 L148.2 338 L148.45 338 L148.7 338 L148.95 338 L149.2 338 L149.45 338 L149.7 338 L149.95 338 L150.2 338 L150.45 338 L150.7 338 L150.95 338 L151.2 338 L151.45 338 L151.7 338 L151.95 338 L152.2 338 L152.45 338 L152.7 338 L152.95 338 L153.2 338" fill="none" stroke="#111" stroke-width="0.75" stroke-dasharray="0.9 0.6"/>
<path d="M106.2 338 L106.45 338 L106.7 338 L106.95 337.99 L107.2 337.99 L107.45 337.98 L107.7 337.95 L107.95 337.91 L108.2 337.83 L108.45 337.69 L108.7 337.47 L108.95 337.11 L109.2 336.57 L109.45 335.78 L109.7 334.68 L109.95 333.22 L110.2 331.35 L110.45 329.1 L110.7 326.51 L110.95 323.71 L111.2 320.87 L111.45 318.22 L111.7 315.98 L111.95 314.37 L112.2 313.57 L112.45 313.64 L112.7 314.48 L112.95 316 L113.2 318.07 L113.45 320.52 L113.7 323.14 L113.95 325.77 L114.2 328.25 L114.45 330.47 L114.7 332.36 L114.95 333.92 L115.2 335.13 L115.45 336.05 L115.7 336.72 L115.95 337.18 L116.2 337.49 L116.45 337.7 L116.7 337.82 L116.95 337.9 L117.2 337.95 L117.45 337.97 L117.7 337.99 L117.95 337.99 L118.2 338 L118.45 338 L118.7 338 L118.95 338 L119.2 338 L119.45 338 L119.7 338 L119.95 338 L120.2 338 L120.45 338 L120.7 338 L120.95 338 L121.2 338 L121.45 338 L121.7 338 L121.95 338 L122.2 338 L122.45 338 L122.7 338 L122.95 338 L123.2 338 L123.45 338 L123.7 338 L123.95 338 L124.2 338 L124.45 338 L124.7 338 L124.95 338 L125.2 338 L125.45 338 L125.7 338 L125.95 338 L126.2 338 L126.45 338 L126.7 338 L126.95 338 L127.2 338 L127.45 338 L127.7 338 L127.95 338 L128.2 338 L128.45 338 L128.7 338 L128.95 338 L129.2 338 L129.45 338 L129.7 338 L129.95 338 L130.2 338 L130.45 338 L130.7 338 L130.95 338 L131.2 338 L131.45 338 L131.7 338 L131.95 338 L132.2 338 L132.45 338 L132.7 338 L132.95 338 L133.2 338 L133.45 338 L133.7 338 L133.95 338 L134.2 338 L134.45 338 L134.7 338 L134.95 338 L135.2 338 L135.45 338 L135.7 338 L135.95 338 L136.2 338 L136.45 338 L136.7 338 L136.95 338 L137.2 338 L137.45 338 L137.7 338 L137.95 338 L138.2 338 L138.45 338 L138.7 338 L138.95 338 L139.2 338 L139.45 338 L139.7 338 L139.95 338 L140.2 338 L140.45 338 L140.7 338 L140.95 338 L141.2 338 L141.45 338 L141.7 338 L141.95 338 L142.2 338 L142.45 338 L142.7 338 L142.95 338 L143.2 338 L143.45 338 L143.7 338 L143.95 338 L144.2 338 L144.45 338 L144.7 338 L144.95 338 L145.2 338 L145.45 338 L145.7 338 L145.95 338 L146.2 338 L146.45 338 L146.7 338 L146.95 338 L147.2 338 L147.45 338 L147.7 338 L147.95 338 L148.2 338 L148.45 338 L148.7 338 L148.95 338 L149.2 338 L149.45 338 L149.7 338 L149.95 338 L150.2 338 L150.45 338 L150.7 338 L150.95 338 L151.2 338 L151.45 338 L151.7 338 L151.95 338 L152.2 338 L152.45 338 L152.7 338 L152.95 338 L153.2 338" fill="none" stroke="#000" stroke-width="0.75"/>
<line x1="106.2" y1="338.5" x2="153.3" y2="338.5" stroke="#000" stroke-width="1.3"/>
<text x="118.7" y="307.9" font-size="5.2" font-weight="bold" fill="#000" text-anchor="start" textLength="13.4" lengthAdjust="spacingAndGlyphs" stroke="#000" stroke-width="0.15">H929</text>
<line x1="118.7" y1="308.6" x2="132.1" y2="308.6" stroke="#000" stroke-width="0.5"/>
<text x="119.2" y="311.2" font-size="2.9" font-weight="bold" fill="#111" text-anchor="start" textLength="12.4" lengthAdjust="spacingAndGlyphs">shRNA3</text>
<line x1="107.7" y1="338.5" x2="107.7" y2="339.8" stroke="#000" stroke-width="0.5"/>
<text x="107.1" y="345.5" font-size="4.2" font-weight="normal" fill="#111" text-anchor="middle" >10<tspan dy="-1.8" font-size="2.9">0</tspan></text>
<line x1="119.1" y1="338.5" x2="119.1" y2="339.8" stroke="#000" stroke-width="0.5"/>
<text x="118.5" y="345.5" font-size="4.2" font-weight="normal" fill="#111" text-anchor="middle" >10<tspan dy="-1.8" font-size="2.9">1</tspan></text>
<line x1="130.5" y1="338.5" x2="130.5" y2="339.8" stroke="#000" stroke-width="0.5"/>
<text x="129.9" y="345.5" font-size="4.2" font-weight="normal" fill="#111" text-anchor="middle" >10<tspan dy="-1.8" font-size="2.9">2</tspan></text>
<line x1="141.9" y1="338.5" x2="141.9" y2="339.8" stroke="#000" stroke-width="0.5"/>
<text x="141.3" y="345.5" font-size="4.2" font-weight="normal" fill="#111" text-anchor="middle" >10<tspan dy="-1.8" font-size="2.9">3</tspan></text>
<line x1="153.3" y1="338.5" x2="153.3" y2="339.8" stroke="#000" stroke-width="0.5"/>
<text x="152.7" y="345.5" font-size="4.2" font-weight="normal" fill="#111" text-anchor="middle" >10<tspan dy="-1.8" font-size="2.9">4</tspan></text>
<text x="129.45" y="350.1" font-size="4.1" font-weight="normal" fill="#111" text-anchor="middle" >FL1-H</text>
<line x1="105" y1="338.5" x2="106.2" y2="338.5" stroke="#000" stroke-width="0.5"/>
<text x="0" y="0" font-size="4.2" font-weight="normal" fill="#000" text-anchor="middle" transform="translate(103.6,337.5) rotate(-90)" textLength="1.8" lengthAdjust="spacingAndGlyphs">0</text>
<line x1="105" y1="330.92" x2="106.2" y2="330.92" stroke="#000" stroke-width="0.5"/>
<text x="0" y="0" font-size="4.2" font-weight="normal" fill="#000" text-anchor="middle" transform="translate(103.6,331.72) rotate(-90)" textLength="3.3" lengthAdjust="spacingAndGlyphs">20</text>
<line x1="105" y1="323.34" x2="106.2" y2="323.34" stroke="#000" stroke-width="0.5"/>
<text x="0" y="0" font-size="4.2" font-weight="normal" fill="#000" text-anchor="middle" transform="translate(103.6,324.14) rotate(-90)" textLength="3.3" lengthAdjust="spacingAndGlyphs">40</text>
<line x1="105" y1="315.76" x2="106.2" y2="315.76" stroke="#000" stroke-width="0.5"/>
<text x="0" y="0" font-size="4.2" font-weight="normal" fill="#000" text-anchor="middle" transform="translate(103.6,316.56) rotate(-90)" textLength="3.3" lengthAdjust="spacingAndGlyphs">60</text>
<line x1="105" y1="308.18" x2="106.2" y2="308.18" stroke="#000" stroke-width="0.5"/>
<text x="0" y="0" font-size="4.2" font-weight="normal" fill="#000" text-anchor="middle" transform="translate(103.6,308.98) rotate(-90)" textLength="3.3" lengthAdjust="spacingAndGlyphs">80</text>
<line x1="105" y1="300.6" x2="106.2" y2="300.6" stroke="#000" stroke-width="0.5"/>
<text x="0" y="0" font-size="4.2" font-weight="normal" fill="#000" text-anchor="middle" transform="translate(103.6,302.9) rotate(-90)" textLength="4.6" lengthAdjust="spacingAndGlyphs">100</text>
<text x="0" y="0" font-size="4.3" font-weight="normal" fill="#111" text-anchor="middle" transform="translate(98.3,319.55) rotate(-90)" textLength="13.4" lengthAdjust="spacingAndGlyphs">Counts</text>
<text x="174.8" y="197.9" font-size="10.5" font-weight="bold" fill="#000" text-anchor="start" >E</text>
<line x1="188" y1="207.8" x2="188" y2="339.3" stroke="#444" stroke-width="0.6"/>
<line x1="188" y1="339.3" x2="360" y2="339.3" stroke="#666" stroke-width="0.6"/>
<line x1="186.2" y1="339.3" x2="188" y2="339.3" stroke="#444" stroke-width="0.6"/>
<text x="183.7" y="340.9" font-size="4.6" font-weight="normal" fill="#000" text-anchor="end" >0</text>
<line x1="186.2" y1="320.59" x2="188" y2="320.59" stroke="#444" stroke-width="0.6"/>
<text x="183.7" y="322.19" font-size="4.6" font-weight="normal" fill="#000" text-anchor="end" >20</text>
<line x1="186.2" y1="301.87" x2="188" y2="301.87" stroke="#444" stroke-width="0.6"/>
<text x="183.7" y="303.47" font-size="4.6" font-weight="normal" fill="#000" text-anchor="end" >40</text>
<line x1="186.2" y1="283.16" x2="188" y2="283.16" stroke="#444" stroke-width="0.6"/>
<text x="183.7" y="284.76" font-size="4.6" font-weight="normal" fill="#000" text-anchor="end" >60</text>
<line x1="186.2" y1="264.44" x2="188" y2="264.44" stroke="#444" stroke-width="0.6"/>
<text x="183.7" y="266.04" font-size="4.6" font-weight="normal" fill="#000" text-anchor="end" >80</text>
<line x1="186.2" y1="245.73" x2="188" y2="245.73" stroke="#444" stroke-width="0.6"/>
<text x="183.7" y="247.33" font-size="4.6" font-weight="normal" fill="#000" text-anchor="end" >100</text>
<line x1="186.2" y1="227.02" x2="188" y2="227.02" stroke="#444" stroke-width="0.6"/>
<text x="183.7" y="228.62" font-size="4.6" font-weight="normal" fill="#000" text-anchor="end" >120</text>
<line x1="186.2" y1="208.3" x2="188" y2="208.3" stroke="#444" stroke-width="0.6"/>
<text x="183.7" y="209.9" font-size="4.6" font-weight="normal" fill="#000" text-anchor="end" >140</text>
<text x="0" y="0" font-size="6" font-weight="bold" fill="#111" text-anchor="middle" transform="translate(174.4,275.2) rotate(-90)" textLength="26" lengthAdjust="spacingAndGlyphs" stroke="#111" stroke-width="0.21">2^-ΔΔCt</text>
<rect x="200.8" y="307.5" width="10.7" height="31.8" fill="#000" stroke="#555" stroke-width="0.5"/>
<line x1="203.65" y1="306.8" x2="208.65" y2="306.8" stroke="#333" stroke-width="0.5"/>
<rect x="218.1" y="319.5" width="12.3" height="19.8" fill="#fff" stroke="#555" stroke-width="0.5"/>
<line x1="221.75" y1="318.8" x2="226.75" y2="318.8" stroke="#333" stroke-width="0.5"/>
<rect x="237.3" y="317.7" width="10.8" height="21.6" fill="#d4d4d4" stroke="#555" stroke-width="0.5"/>
<line x1="240.2" y1="317" x2="245.2" y2="317" stroke="#333" stroke-width="0.5"/>
<line x1="200.4" y1="342.3" x2="245.8" y2="342.3" stroke="#444" stroke-width="0.9"/>
<line x1="200.4" y1="342.6" x2="200.4" y2="343.6" stroke="#555" stroke-width="0.4"/>
<line x1="211.75" y1="342.6" x2="211.75" y2="343.6" stroke="#555" stroke-width="0.4"/>
<line x1="223.1" y1="342.6" x2="223.1" y2="343.6" stroke="#555" stroke-width="0.4"/>
<line x1="234.45" y1="342.6" x2="234.45" y2="343.6" stroke="#555" stroke-width="0.4"/>
<line x1="245.8" y1="342.6" x2="245.8" y2="343.6" stroke="#555" stroke-width="0.4"/>
<text x="227.3" y="350.1" font-size="6.4" font-weight="bold" fill="#111" text-anchor="middle"  stroke="#111" stroke-width="0.22">INA-6</text>
<rect x="255.2" y="271" width="11" height="68.3" fill="#000" stroke="#555" stroke-width="0.5"/>
<line x1="258.2" y1="270.3" x2="263.2" y2="270.3" stroke="#333" stroke-width="0.5"/>
<rect x="272.7" y="310.6" width="11.6" height="28.7" fill="#fff" stroke="#555" stroke-width="0.5"/>
<line x1="276" y1="309.9" x2="281" y2="309.9" stroke="#333" stroke-width="0.5"/>
<rect x="291" y="312.7" width="11.1" height="26.6" fill="#d4d4d4" stroke="#555" stroke-width="0.5"/>
<line x1="294.05" y1="312" x2="299.05" y2="312" stroke="#333" stroke-width="0.5"/>
<line x1="255.5" y1="342.3" x2="301.5" y2="342.3" stroke="#444" stroke-width="0.9"/>
<line x1="255.5" y1="342.6" x2="255.5" y2="343.6" stroke="#555" stroke-width="0.4"/>
<line x1="267" y1="342.6" x2="267" y2="343.6" stroke="#555" stroke-width="0.4"/>
<line x1="278.5" y1="342.6" x2="278.5" y2="343.6" stroke="#555" stroke-width="0.4"/>
<line x1="290" y1="342.6" x2="290" y2="343.6" stroke="#555" stroke-width="0.4"/>
<line x1="301.5" y1="342.6" x2="301.5" y2="343.6" stroke="#555" stroke-width="0.4"/>
<text x="277.3" y="350.1" font-size="6.4" font-weight="bold" fill="#111" text-anchor="middle"  stroke="#111" stroke-width="0.22">MM1S</text>
<rect x="308.9" y="216.1" width="11.4" height="123.2" fill="#000" stroke="#555" stroke-width="0.5"/>
<line x1="312.1" y1="215.4" x2="317.1" y2="215.4" stroke="#333" stroke-width="0.5"/>
<rect x="327.2" y="307.3" width="11.3" height="32" fill="#fff" stroke="#555" stroke-width="0.5"/>
<line x1="330.35" y1="306.6" x2="335.35" y2="306.6" stroke="#333" stroke-width="0.5"/>
<rect x="344.6" y="311.3" width="11.3" height="28" fill="#d4d4d4" stroke="#555" stroke-width="0.5"/>
<line x1="347.75" y1="310.6" x2="352.75" y2="310.6" stroke="#333" stroke-width="0.5"/>
<line x1="308" y1="342.3" x2="356.7" y2="342.3" stroke="#444" stroke-width="0.9"/>
<line x1="308" y1="342.6" x2="308" y2="343.6" stroke="#555" stroke-width="0.4"/>
<line x1="320.18" y1="342.6" x2="320.18" y2="343.6" stroke="#555" stroke-width="0.4"/>
<line x1="332.35" y1="342.6" x2="332.35" y2="343.6" stroke="#555" stroke-width="0.4"/>
<line x1="344.52" y1="342.6" x2="344.52" y2="343.6" stroke="#555" stroke-width="0.4"/>
<line x1="356.7" y1="342.6" x2="356.7" y2="343.6" stroke="#555" stroke-width="0.4"/>
<text x="331.5" y="350.1" font-size="6.4" font-weight="bold" fill="#111" text-anchor="middle"  stroke="#111" stroke-width="0.22">H929</text>
<rect x="199.6" y="210.3" width="6.2" height="7.2" fill="#000"/>
<rect x="200.2" y="222.6" width="5.6" height="7.4" fill="#fff" stroke="#333" stroke-width="0.8"/>
<rect x="200.2" y="234.4" width="5.6" height="7.2" fill="#d0d0d0" stroke="#333" stroke-width="0.8"/>
<text x="207.2" y="217.4" font-size="6.9" font-weight="bold" fill="#111" text-anchor="start"  stroke="#111" stroke-width="0.24">scrambled shRNA</text>
<text x="207.2" y="229.6" font-size="6.9" font-weight="bold" fill="#111" text-anchor="start"  stroke="#111" stroke-width="0.24">ITGB7 shRNA2</text>
<text x="207.2" y="240.2" font-size="6.9" font-weight="bold" fill="#111" text-anchor="start"  stroke="#111" stroke-width="0.24">ITGB7 shRNA3</text>
</svg>
</body></html>
